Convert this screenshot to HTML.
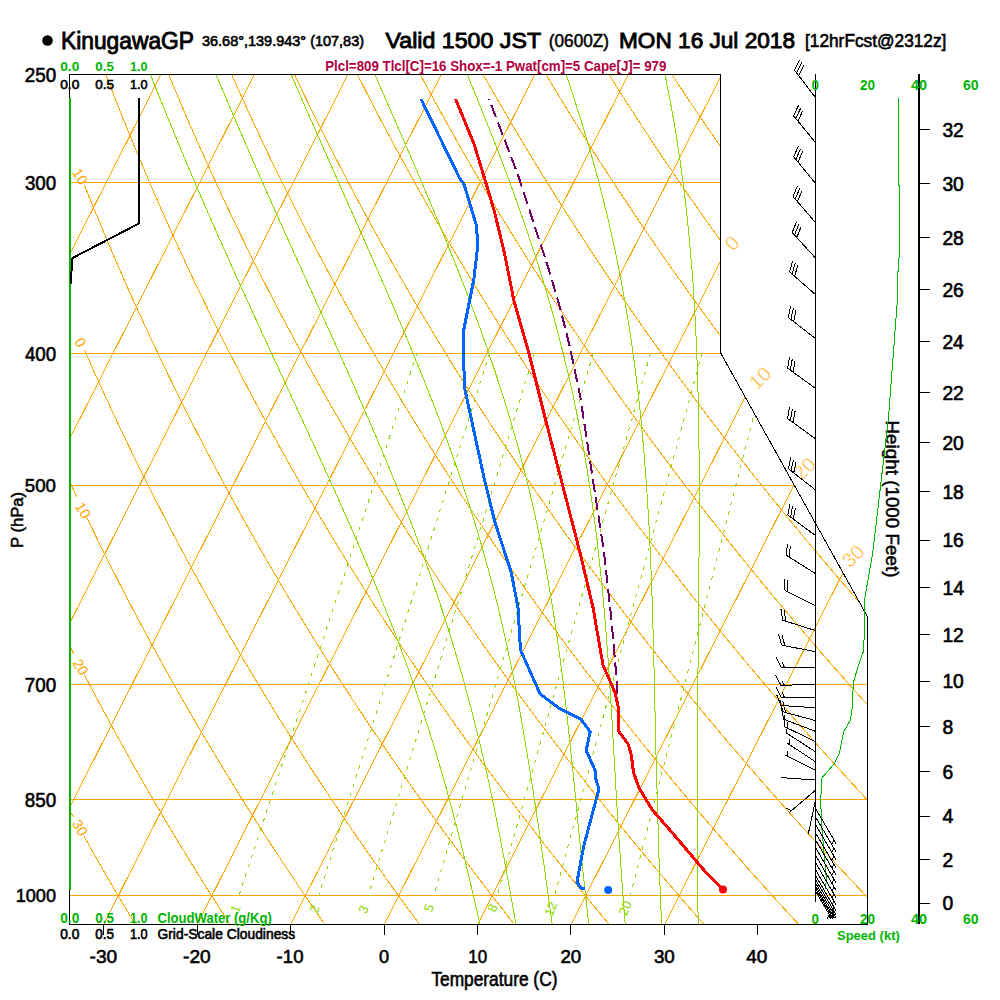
<!DOCTYPE html>
<html><head><meta charset="utf-8"><style>
html,body{margin:0;padding:0;background:#fff;}
svg{display:block;font-family:"Liberation Sans",sans-serif;}
</style></head><body>
<svg width="1000" height="1000" viewBox="0 0 1000 1000">
<rect width="1000" height="1000" fill="#fff"/>
<defs><clipPath id="cp"><polygon points="69.80,924.80 867.79,924.80 867.79,617.29 720.66,353.00 720.66,74.80 69.80,74.80"/></clipPath></defs>
<g clip-path="url(#cp)" shape-rendering="crispEdges">
<line x1="69.80" y1="895.90" x2="867.79" y2="895.90" stroke="#FFA500" stroke-width="1" />
<line x1="69.80" y1="799.64" x2="867.79" y2="799.64" stroke="#FFA500" stroke-width="1" />
<line x1="69.80" y1="684.64" x2="867.79" y2="684.64" stroke="#FFA500" stroke-width="1" />
<line x1="69.80" y1="485.35" x2="867.79" y2="485.35" stroke="#FFA500" stroke-width="1" />
<line x1="69.80" y1="353.18" x2="867.79" y2="353.18" stroke="#FFA500" stroke-width="1" />
<line x1="69.80" y1="182.79" x2="867.79" y2="182.79" stroke="#FFA500" stroke-width="1" />
<polyline points="-457.25,924.80 -26.14,74.80" fill="none" stroke="#FFA500" stroke-width="1" />
<polyline points="-363.77,924.80 67.33,74.80" fill="none" stroke="#FFA500" stroke-width="1" />
<polyline points="-270.30,924.80 160.80,74.80" fill="none" stroke="#FFA500" stroke-width="1" />
<polyline points="-176.83,924.80 254.28,74.80" fill="none" stroke="#FFA500" stroke-width="1" />
<polyline points="-83.35,924.80 347.75,74.80" fill="none" stroke="#FFA500" stroke-width="1" />
<polyline points="10.12,924.80 441.23,74.80" fill="none" stroke="#FFA500" stroke-width="1" />
<polyline points="103.60,924.80 534.70,74.80" fill="none" stroke="#FFA500" stroke-width="1" />
<polyline points="197.07,924.80 628.17,74.80" fill="none" stroke="#FFA500" stroke-width="1" />
<polyline points="290.54,924.80 721.65,74.80" fill="none" stroke="#FFA500" stroke-width="1" />
<polyline points="384.02,924.80 815.12,74.80" fill="none" stroke="#FFA500" stroke-width="1" />
<polyline points="477.49,924.80 908.60,74.80" fill="none" stroke="#FFA500" stroke-width="1" />
<polyline points="570.97,924.80 1002.07,74.80" fill="none" stroke="#FFA500" stroke-width="1" />
<polyline points="664.44,924.80 1095.54,74.80" fill="none" stroke="#FFA500" stroke-width="1" />
<polyline points="-262.84,-227.76 -260.25,-208.34 -257.63,-189.54 -254.98,-171.31 -252.32,-153.63 -249.63,-136.46 -246.93,-119.77 -244.22,-103.54 -241.50,-87.75 -238.77,-72.36 -236.03,-57.37 -233.29,-42.74 -230.54,-28.47 -227.80,-14.53 -225.05,-0.92 -222.30,12.40 -219.55,25.41 -216.81,38.15 -214.07,50.62 -211.33,62.83 -208.60,74.80 -205.87,86.53 -203.14,98.03 -200.42,109.31 -197.71,120.38 -195.01,131.25 -192.31,141.92 -189.61,152.41 -186.93,162.71 -184.25,172.83 -181.58,182.79 -178.92,192.58 -176.27,202.21 -173.62,211.69 -170.98,221.02 -168.36,230.20 -165.73,239.24 -163.12,248.15 -160.52,256.92 -157.93,265.57 -155.34,274.09 -152.76,282.49 -150.20,290.78 -147.64,298.95 -145.09,307.01 -142.55,314.96 -140.01,322.80 -137.49,330.54 -134.98,338.19 -132.47,345.73 -129.97,353.18 -127.49,360.54 -125.01,367.81 -122.54,374.99 -120.07,382.08 -117.62,389.09 -115.18,396.02 -112.74,402.87 -110.32,409.64 -107.90,416.33 -105.49,422.95 -103.09,429.49 -100.69,435.96 -98.31,442.37 -95.93,448.70 -93.57,454.97 -91.21,461.17 -88.86,467.31 -86.51,473.38 -84.18,479.40 -81.85,485.35 -79.53,491.24 -77.22,497.08 -74.92,502.86 -72.62,508.58 -70.34,514.25 -68.06,519.86 -65.78,525.42 -63.52,530.93 -61.26,536.39 -59.01,541.80 -56.77,547.16 -54.54,552.48 -52.31,557.74 -50.09,562.96 -47.88,568.13 -45.68,573.26 -43.48,578.34 -41.29,583.38 -39.10,588.38 -36.93,593.34 -34.76,598.26 -32.59,603.13 -30.44,607.97 -28.29,612.76 -26.15,617.52 -24.01,622.24 -21.88,626.92 -19.76,631.57 -17.65,636.18 -15.54,640.75 -13.43,645.29 -11.34,649.79 -9.25,654.26 -7.17,658.70 -5.09,663.10 -3.02,667.47 -0.95,671.81 1.10,676.12 3.16,680.40 5.20,684.64 7.24,688.86 9.28,693.04 11.31,697.20 13.33,701.33 15.34,705.43 17.35,709.50 19.36,713.54 21.36,717.56 23.35,721.55 25.34,725.51 27.32,729.44 29.30,733.35 31.27,737.24 33.23,741.10 35.19,744.93 37.15,748.74 39.10,752.52 41.04,756.28 42.98,760.02 44.91,763.73 46.84,767.42 48.76,771.09 50.68,774.74 52.59,778.36 54.50,781.96 56.40,785.54 58.30,789.10 60.19,792.63 62.07,796.15 63.96,799.64 65.83,803.12 67.70,806.57 69.57,810.00 71.43,813.42 73.29,816.81" fill="none" stroke="#FFA500" stroke-width="1" />
<polyline points="83.97,836.12 85.80,839.39 87.62,842.64 89.43,845.87 91.25,849.08 93.05,852.28 94.86,855.46 96.66,858.62 98.45,861.77 100.24,864.90 102.02,868.01 103.81,871.11 105.58,874.19 107.36,877.25 109.12,880.30 110.89,883.33 112.65,886.35 114.40,889.35 116.16,892.34 117.90,895.31 119.65,898.27 121.39,901.21 123.12,904.14 124.85,907.05 126.58,909.95 128.30,912.83 130.02,915.70 131.74,918.56 133.45,921.41 135.16,924.24" fill="none" stroke="#FFA500" stroke-width="1" />
<polyline points="-208.48,-227.76 -205.38,-208.34 -202.26,-189.54 -199.12,-171.31 -195.98,-153.63 -192.82,-136.46 -189.66,-119.77 -186.50,-103.54 -183.34,-87.75 -180.17,-72.36 -177.01,-57.37 -173.85,-42.74 -170.69,-28.47 -167.54,-14.53 -164.40,-0.92 -161.26,12.40 -158.13,25.41 -155.01,38.15 -151.89,50.62 -148.79,62.83 -145.69,74.80 -142.60,86.53 -139.53,98.03 -136.46,109.31 -133.41,120.38 -130.36,131.25 -127.33,141.92 -124.31,152.41 -121.30,162.71 -118.30,172.83 -115.31,182.79 -112.34,192.58 -109.37,202.21 -106.42,211.69 -103.48,221.02 -100.55,230.20 -97.64,239.24 -94.73,248.15 -91.84,256.92 -88.96,265.57 -86.09,274.09 -83.23,282.49 -80.38,290.78 -77.55,298.95 -74.73,307.01 -71.92,314.96 -69.12,322.80 -66.33,330.54 -63.55,338.19 -60.78,345.73 -58.03,353.18 -55.29,360.54 -52.55,367.81 -49.83,374.99 -47.12,382.08 -44.42,389.09 -41.73,396.02 -39.05,402.87 -36.39,409.64 -33.73,416.33 -31.08,422.95 -28.44,429.49 -25.82,435.96 -23.20,442.37 -20.60,448.70 -18.00,454.97 -15.42,461.17 -12.84,467.31 -10.27,473.38 -7.72,479.40 -5.17,485.35 -2.63,491.24 -0.11,497.08 2.41,502.86 4.92,508.58 7.42,514.25 9.91,519.86 12.39,525.42 14.87,530.93 17.33,536.39 19.78,541.80 22.23,547.16 24.67,552.48 27.09,557.74 29.51,562.96 31.92,568.13 34.33,573.26 36.72,578.34 39.11,583.38 41.48,588.38 43.85,593.34 46.22,598.26 48.57,603.13 50.91,607.97 53.25,612.76 55.58,617.52 57.90,622.24 60.22,626.92 62.52,631.57 64.82,636.18 67.11,640.75 69.40,645.29 71.67,649.79 73.94,654.26" fill="none" stroke="#FFA500" stroke-width="1" />
<polyline points="84.55,674.92 86.78,679.20 89.00,683.46 91.21,687.68 93.42,691.88 95.62,696.04 97.82,700.18 100.00,704.28 102.18,708.36 104.35,712.41 106.52,716.44 108.68,720.43 110.84,724.40 112.98,728.34 115.12,732.26 117.26,736.15 119.39,740.02 121.51,743.86 123.62,747.67 125.73,751.47 127.84,755.23 129.94,758.98 132.03,762.70 134.11,766.39 136.19,770.07 138.27,773.72 140.33,777.35 142.40,780.95 144.45,784.54 146.50,788.10 148.55,791.64 150.59,795.17 152.62,798.67 154.65,802.14 156.67,805.60 158.69,809.04 160.70,812.46 162.71,815.86 164.71,819.24 166.70,822.60 168.69,825.95 170.68,829.27 172.66,832.57 174.63,835.86 176.60,839.13 178.56,842.38 180.52,845.61 182.48,848.83 184.43,852.03 186.37,855.21 188.31,858.37 190.24,861.52 192.17,864.65 194.10,867.76 196.02,870.86 197.93,873.94 199.84,877.01 201.74,880.05 203.65,883.09 205.54,886.11 207.43,889.11 209.32,892.10 211.20,895.07 213.08,898.03 214.95,900.97 216.82,903.90 218.68,906.82 220.54,909.72 222.40,912.60 224.25,915.48 226.09,918.33 227.93,921.18 229.77,924.01" fill="none" stroke="#FFA500" stroke-width="1" />
<polyline points="-154.12,-227.76 -150.50,-208.34 -146.88,-189.54 -143.26,-171.31 -139.63,-153.63 -136.01,-136.46 -132.39,-119.77 -128.78,-103.54 -125.18,-87.75 -121.58,-72.36 -117.99,-57.37 -114.41,-42.74 -110.85,-28.47 -107.29,-14.53 -103.75,-0.92 -100.22,12.40 -96.71,25.41 -93.20,38.15 -89.72,50.62 -86.24,62.83 -82.79,74.80 -79.34,86.53 -75.92,98.03 -72.50,109.31 -69.11,120.38 -65.72,131.25 -62.36,141.92 -59.01,152.41 -55.67,162.71 -52.35,172.83 -49.05,182.79 -45.76,192.58 -42.48,202.21 -39.22,211.69 -35.98,221.02 -32.75,230.20 -29.54,239.24 -26.34,248.15 -23.16,256.92 -19.99,265.57 -16.84,274.09 -13.70,282.49 -10.57,290.78 -7.46,298.95 -4.37,307.01 -1.29,314.96 1.78,322.80 4.84,330.54 7.88,338.19 10.90,345.73 13.92,353.18 16.92,360.54 19.90,367.81 22.87,374.99 25.83,382.08 28.78,389.09 31.72,396.02 34.64,402.87 37.55,409.64 40.44,416.33 43.33,422.95 46.20,429.49 49.06,435.96 51.90,442.37 54.74,448.70 57.56,454.97 60.38,461.17 63.18,467.31 65.97,473.38 68.74,479.40 71.51,485.35 74.27,491.24 77.01,497.08" fill="none" stroke="#FFA500" stroke-width="1" />
<polyline points="86.26,516.50 88.96,522.09 91.64,527.64 94.32,533.12 96.99,538.56 99.64,543.95 102.29,549.29 104.92,554.59 107.55,559.83 110.16,565.03 112.77,570.19 115.37,575.30 117.95,580.37 120.53,585.39 123.10,590.37 125.66,595.31 128.21,600.21 130.75,605.07 133.28,609.89 135.80,614.67 138.31,619.41 140.82,624.12 143.31,628.78 145.80,633.41 148.28,638.01 150.75,642.57 153.21,647.09 155.66,651.58 158.11,656.04 160.54,660.46 162.97,664.85 165.39,669.21 167.81,673.54 170.21,677.84 172.61,682.10 174.99,686.33 177.37,690.54 179.75,694.71 182.11,698.86 184.47,702.97 186.82,707.06 189.16,711.12 191.50,715.15 193.83,719.16 196.15,723.13 198.46,727.08 200.77,731.01 203.07,734.91 205.36,738.78 207.64,742.63 209.92,746.46 212.19,750.25 214.46,754.03 216.71,757.78 218.96,761.51 221.21,765.21 223.45,768.89 225.68,772.55 227.90,776.19 230.12,779.80 232.33,783.39 234.54,786.96 236.73,790.51 238.93,794.04 241.11,797.55 243.29,801.03 245.47,804.50 247.63,807.95 249.80,811.37 251.95,814.78 254.10,818.16 256.24,821.53 258.38,824.88 260.51,828.21 262.64,831.52 264.76,834.81 266.87,838.09 268.98,841.34 271.08,844.58 273.18,847.80 275.27,851.00 277.36,854.19 279.44,857.36 281.52,860.51 283.59,863.65 285.65,866.77 287.71,869.87 289.76,872.96 291.81,876.03 293.85,879.08 295.89,882.12 297.93,885.14 299.95,888.15 301.98,891.14 303.99,894.12 306.00,897.08 308.01,900.03 310.01,902.97 312.01,905.89 314.00,908.79 315.99,911.68 317.97,914.56 319.95,917.42 321.92,920.27 323.89,923.11" fill="none" stroke="#FFA500" stroke-width="1" />
<polyline points="84.55,350.21 87.82,357.61 91.06,364.91 94.29,372.13 97.51,379.25 100.71,386.30 103.89,393.26 107.06,400.14 110.22,406.94 113.36,413.66 116.49,420.31 119.60,426.88 122.70,433.38 125.78,439.81 128.85,446.18 131.91,452.47 134.95,458.70 137.98,464.86 141.00,470.96 144.01,477.00 147.00,482.98 149.98,488.89 152.94,494.75 155.90,500.55 158.84,506.30 161.77,511.99 164.68,517.62 167.59,523.21 170.48,528.74 173.36,534.22 176.23,539.65 179.09,545.02 181.94,550.36 184.77,555.64 187.60,560.88 190.41,566.07 193.21,571.21 196.00,576.32 198.79,581.37 201.56,586.39 204.31,591.36 207.06,596.29 209.80,601.18 212.53,606.04 215.25,610.85 217.96,615.62 220.66,620.35 223.34,625.05 226.02,629.71 228.69,634.34 231.35,638.92 234.00,643.48 236.64,647.99 239.27,652.48 241.89,656.93 244.51,661.35 247.11,665.73 249.70,670.08 252.29,674.40 254.87,678.69 257.43,682.95 259.99,687.18 262.54,691.37 265.08,695.54 267.62,699.68 270.14,703.79 272.66,707.87 275.17,711.93 277.67,715.95 280.16,719.95 282.64,723.93 285.12,727.87 287.59,731.79 290.05,735.69 292.50,739.55 294.94,743.40 297.38,747.22 299.81,751.01 302.23,754.78 304.65,758.53 307.05,762.25 309.45,765.95 311.84,769.63 314.23,773.28 316.61,776.91 318.98,780.52 321.34,784.11 323.70,787.68 326.04,791.22 328.39,794.74 330.72,798.25 333.05,801.73 335.37,805.19 337.69,808.63 340.00,812.05 342.30,815.46 344.59,818.84 346.88,822.20 349.16,825.55 351.44,828.87 353.71,832.18 355.97,835.47 358.23,838.74 360.48,841.99 362.72,845.23 364.96,848.44 367.19,851.64 369.42,854.83 371.64,857.99 373.85,861.14 376.06,864.27 378.26,867.39 380.46,870.49 382.65,873.57 384.83,876.64 387.01,879.69 389.18,882.73 391.35,885.75 393.51,888.75 395.67,891.74 397.82,894.72 399.96,897.68 402.10,900.62 404.23,903.55 406.36,906.47 408.48,909.37 410.60,912.26 412.71,915.13 414.82,917.99 416.92,920.84 419.02,923.67" fill="none" stroke="#FFA500" stroke-width="1" />
<polyline points="84.67,185.74 88.58,195.49 92.46,205.07 96.33,214.50 100.17,223.79 103.99,232.93 107.79,241.93 111.57,250.79 115.33,259.53 119.06,268.14 122.78,276.63 126.47,284.99 130.15,293.24 133.81,301.38 137.44,309.40 141.06,317.32 144.66,325.14 148.24,332.85 151.80,340.46 155.34,347.98 158.86,355.40 162.37,362.73 165.85,369.97 169.32,377.12 172.78,384.19 176.21,391.18 179.63,398.08 183.04,404.90 186.42,411.65 189.79,418.32 193.14,424.92 196.48,431.44 199.80,437.89 203.11,444.27 206.40,450.59 209.68,456.84 212.94,463.02 216.18,469.14 219.41,475.20 222.63,481.19 225.83,487.13 229.02,493.00 232.19,498.82 235.35,504.58 238.50,510.29 241.63,515.94 244.75,521.54 247.86,527.08 250.95,532.58 254.03,538.02 257.09,543.42 260.15,548.76 263.19,554.06 266.22,559.31 269.23,564.52 272.24,569.67 275.23,574.79 278.21,579.86 281.18,584.89 284.13,589.87 287.08,594.82 290.01,599.72 292.93,604.58 295.84,609.41 298.74,614.19 301.63,618.94 304.51,623.65 307.38,628.32 310.23,632.95 313.08,637.55 315.91,642.11 318.73,646.64 321.55,651.14 324.35,655.60 327.14,660.02 329.93,664.42 332.70,668.78 335.46,673.11 338.22,677.41 340.96,681.67 343.69,685.91 346.42,690.12 349.13,694.29 351.84,698.44 354.54,702.56 357.22,706.65 359.90,710.71 362.57,714.75 365.23,718.76 367.88,722.74 370.52,726.69 373.16,730.62 375.78,734.52 378.40,738.40 381.01,742.25 383.61,746.07 386.20,749.88 388.78,753.65 391.36,757.41 393.92,761.14 396.48,764.84 399.03,768.53 401.57,772.19 404.11,775.83 406.63,779.44 409.15,783.04 411.66,786.61 414.17,790.16 416.66,793.69 419.15,797.20 421.63,800.69 424.10,804.15 426.57,807.60 429.03,811.03 431.48,814.44 433.92,817.83 436.36,821.19 438.79,824.54 441.21,827.88 443.63,831.19 446.04,834.48 448.44,837.76 450.83,841.02 453.22,844.26 455.60,847.48 457.98,850.68 460.35,853.87 462.71,857.04 465.06,860.20 467.41,863.33 469.76,866.46 472.09,869.56 474.42,872.65 476.74,875.72 479.06,878.78 481.37,881.82 483.68,884.84 485.97,887.85 488.27,890.85 490.55,893.82 492.83,896.79 495.11,899.74 497.37,902.67 499.64,905.59 501.89,908.50 504.14,911.39 506.39,914.27 508.63,917.14 510.86,919.99 513.09,922.82" fill="none" stroke="#FFA500" stroke-width="1" />
<polyline points="8.97,-227.76 14.12,-208.34 19.24,-189.54 24.33,-171.31 29.39,-153.63 34.42,-136.46 39.41,-119.77 44.38,-103.54 49.31,-87.75 54.20,-72.36 59.07,-57.37 63.90,-42.74 68.70,-28.47 73.46,-14.53 78.20,-0.92 82.90,12.40 87.57,25.41 92.20,38.15 96.81,50.62 101.38,62.83 105.93,74.80 110.44,86.53 114.92,98.03 119.38,109.31 123.80,120.38 128.20,131.25 132.57,141.92 136.91,152.41 141.22,162.71 145.50,172.83 149.76,182.79 153.99,192.58 158.19,202.21 162.37,211.69 166.52,221.02 170.65,230.20 174.75,239.24 178.83,248.15 182.88,256.92 186.91,265.57 190.92,274.09 194.90,282.49 198.86,290.78 202.80,298.95 206.71,307.01 210.61,314.96 214.48,322.80 218.33,330.54 222.16,338.19 225.96,345.73 229.75,353.18 233.52,360.54 237.26,367.81 240.99,374.99 244.70,382.08 248.39,389.09 252.06,396.02 255.71,402.87 259.34,409.64 262.95,416.33 266.55,422.95 270.12,429.49 273.68,435.96 277.23,442.37 280.75,448.70 284.26,454.97 287.75,461.17 291.23,467.31 294.68,473.38 298.13,479.40 301.55,485.35 304.96,491.24 308.36,497.08 311.74,502.86 315.10,508.58 318.45,514.25 321.78,519.86 325.10,525.42 328.41,530.93 331.70,536.39 334.97,541.80 338.23,547.16 341.48,552.48 344.72,557.74 347.94,562.96 351.14,568.13 354.34,573.26 357.52,578.34 360.68,583.38 363.84,588.38 366.98,593.34 370.11,598.26 373.22,603.13 376.32,607.97 379.42,612.76 382.49,617.52 385.56,622.24 388.62,626.92 391.66,631.57 394.69,636.18 397.71,640.75 400.72,645.29 403.72,649.79 406.70,654.26 409.68,658.70 412.64,663.10 415.59,667.47 418.53,671.81 421.46,676.12 424.38,680.40 427.29,684.64 430.19,688.86 433.08,693.04 435.96,697.20 438.83,701.33 441.69,705.43 444.54,709.50 447.37,713.54 450.20,717.56 453.02,721.55 455.83,725.51 458.63,729.44 461.42,733.35 464.20,737.24 466.97,741.10 469.74,744.93 472.49,748.74 475.24,752.52 477.97,756.28 480.70,760.02 483.41,763.73 486.12,767.42 488.82,771.09 491.52,774.74 494.20,778.36 496.87,781.96 499.54,785.54 502.20,789.10 504.85,792.63 507.49,796.15 510.12,799.64 512.75,803.12 515.36,806.57 517.97,810.00 520.57,813.42 523.17,816.81 525.75,820.19 528.33,823.54 530.90,826.88 533.46,830.20 536.02,833.50 538.57,836.78 541.11,840.04 543.64,843.29 546.16,846.51 548.68,849.72 551.19,852.92 553.70,856.09 556.19,859.25 558.68,862.39 561.17,865.52 563.64,868.63 566.11,871.72 568.57,874.80 571.03,877.86 573.48,880.91 575.92,883.94 578.36,886.95 580.78,889.95 583.21,892.93 585.62,895.90 588.03,898.86 590.43,901.80 592.83,904.72 595.22,907.63 597.60,910.53 599.98,913.41 602.35,916.28 604.72,919.13 607.08,921.97 609.43,924.80" fill="none" stroke="#FFA500" stroke-width="1" />
<polyline points="63.33,-227.76 69.00,-208.34 74.62,-189.54 80.20,-171.31 85.73,-153.63 91.23,-136.46 96.68,-119.77 102.10,-103.54 107.47,-87.75 112.80,-72.36 118.09,-57.37 123.34,-42.74 128.54,-28.47 133.71,-14.53 138.84,-0.92 143.94,12.40 148.99,25.41 154.00,38.15 158.98,50.62 163.93,62.83 168.83,74.80 173.70,86.53 178.54,98.03 183.34,109.31 188.11,120.38 192.84,131.25 197.54,141.92 202.21,152.41 206.85,162.71 211.45,172.83 216.03,182.79 220.57,192.58 225.08,202.21 229.57,211.69 234.02,221.02 238.45,230.20 242.85,239.24 247.22,248.15 251.56,256.92 255.88,265.57 260.17,274.09 264.43,282.49 268.67,290.78 272.89,298.95 277.07,307.01 281.24,314.96 285.38,322.80 289.49,330.54 293.58,338.19 297.65,345.73 301.70,353.18 305.72,360.54 309.72,367.81 313.70,374.99 317.65,382.08 321.59,389.09 325.50,396.02 329.40,402.87 333.27,409.64 337.12,416.33 340.95,422.95 344.77,429.49 348.56,435.96 352.33,442.37 356.09,448.70 359.83,454.97 363.54,461.17 367.24,467.31 370.92,473.38 374.59,479.40 378.23,485.35 381.86,491.24 385.47,497.08 389.07,502.86 392.65,508.58 396.21,514.25 399.75,519.86 403.28,525.42 406.79,530.93 410.29,536.39 413.77,541.80 417.24,547.16 420.69,552.48 424.12,557.74 427.54,562.96 430.95,568.13 434.34,573.26 437.71,578.34 441.08,583.38 444.42,588.38 447.76,593.34 451.08,598.26 454.38,603.13 457.68,607.97 460.96,612.76 464.22,617.52 467.48,622.24 470.72,626.92 473.94,631.57 477.16,636.18 480.36,640.75 483.55,645.29 486.73,649.79 489.89,654.26 493.04,658.70 496.18,663.10 499.31,667.47 502.43,671.81 505.54,676.12 508.63,680.40 511.71,684.64 514.78,688.86 517.84,693.04 520.89,697.20 523.93,701.33 526.96,705.43 529.97,709.50 532.98,713.54 535.97,717.56 538.96,721.55 541.93,725.51 544.89,729.44 547.85,733.35 550.79,737.24 553.72,741.10 556.65,744.93 559.56,748.74 562.46,752.52 565.36,756.28 568.24,760.02 571.12,763.73 573.98,767.42 576.84,771.09 579.68,774.74 582.52,778.36 585.35,781.96 588.17,785.54 590.98,789.10 593.78,792.63 596.57,796.15 599.35,799.64 602.13,803.12 604.89,806.57 607.65,810.00 610.40,813.42 613.14,816.81 615.87,820.19 618.60,823.54 621.31,826.88 624.02,830.20 626.72,833.50 629.41,836.78 632.10,840.04 634.77,843.29 637.44,846.51 640.10,849.72 642.75,852.92 645.39,856.09 648.03,859.25 650.66,862.39 653.28,865.52 655.90,868.63 658.50,871.72 661.10,874.80 663.69,877.86 666.28,880.91 668.86,883.94 671.43,886.95 673.99,889.95 676.55,892.93 679.10,895.90 681.64,898.86 684.17,901.80 686.70,904.72 689.22,907.63 691.74,910.53 694.25,913.41 696.75,916.28 699.25,919.13 701.73,921.97 704.22,924.80" fill="none" stroke="#FFA500" stroke-width="1" />
<polyline points="117.70,-227.76 123.87,-208.34 129.99,-189.54 136.06,-171.31 142.07,-153.63 148.04,-136.46 153.95,-119.77 159.82,-103.54 165.63,-87.75 171.39,-72.36 177.11,-57.37 182.77,-42.74 188.39,-28.47 193.97,-14.53 199.49,-0.92 204.97,12.40 210.41,25.41 215.81,38.15 221.16,50.62 226.47,62.83 231.74,74.80 236.96,86.53 242.15,98.03 247.30,109.31 252.41,120.38 257.48,131.25 262.52,141.92 267.51,152.41 272.48,162.71 277.40,172.83 282.29,182.79 287.15,192.58 291.98,202.21 296.77,211.69 301.53,221.02 306.25,230.20 310.95,239.24 315.61,248.15 320.24,256.92 324.85,265.57 329.42,274.09 333.97,282.49 338.48,290.78 342.97,298.95 347.43,307.01 351.87,314.96 356.27,322.80 360.65,330.54 365.01,338.19 369.34,345.73 373.64,353.18 377.92,360.54 382.17,367.81 386.40,374.99 390.61,382.08 394.79,389.09 398.95,396.02 403.09,402.87 407.20,409.64 411.29,416.33 415.36,422.95 419.41,429.49 423.44,435.96 427.44,442.37 431.43,448.70 435.39,454.97 439.33,461.17 443.26,467.31 447.16,473.38 451.05,479.40 454.91,485.35 458.76,491.24 462.59,497.08 466.40,502.86 470.19,508.58 473.96,514.25 477.72,519.86 481.46,525.42 485.18,530.93 488.88,536.39 492.57,541.80 496.24,547.16 499.89,552.48 503.53,557.74 507.15,562.96 510.75,568.13 514.34,573.26 517.91,578.34 521.47,583.38 525.01,588.38 528.54,593.34 532.05,598.26 535.55,603.13 539.03,607.97 542.50,612.76 545.95,617.52 549.39,622.24 552.82,626.92 556.23,631.57 559.63,636.18 563.01,640.75 566.38,645.29 569.74,649.79 573.08,654.26 576.41,658.70 579.73,663.10 583.03,667.47 586.33,671.81 589.61,676.12 592.87,680.40 596.13,684.64 599.37,688.86 602.60,693.04 605.82,697.20 609.03,701.33 612.22,705.43 615.41,709.50 618.58,713.54 621.74,717.56 624.89,721.55 628.03,725.51 631.16,729.44 634.27,733.35 637.38,737.24 640.47,741.10 643.56,744.93 646.63,748.74 649.69,752.52 652.74,756.28 655.78,760.02 658.82,763.73 661.84,767.42 664.85,771.09 667.85,774.74 670.84,778.36 673.82,781.96 676.79,785.54 679.76,789.10 682.71,792.63 685.65,796.15 688.59,799.64 691.51,803.12 694.43,806.57 697.33,810.00 700.23,813.42 703.12,816.81 706.00,820.19 708.87,823.54 711.73,826.88 714.58,830.20 717.42,833.50 720.26,836.78 723.08,840.04 725.90,843.29 728.71,846.51 731.51,849.72 734.31,852.92 737.09,856.09 739.87,859.25 742.64,862.39 745.40,865.52 748.15,868.63 750.89,871.72 753.63,874.80 756.36,877.86 759.08,880.91 761.79,883.94 764.50,886.95 767.20,889.95 769.89,892.93 772.57,895.90 775.25,898.86 777.91,901.80 780.58,904.72 783.23,907.63 785.88,910.53 788.51,913.41 791.15,916.28 793.77,919.13 796.39,921.97 799.00,924.80" fill="none" stroke="#FFA500" stroke-width="1" />
<polyline points="172.06,-227.76 178.74,-208.34 185.36,-189.54 191.92,-171.31 198.42,-153.63 204.85,-136.46 211.22,-119.77 217.53,-103.54 223.79,-87.75 229.99,-72.36 236.13,-57.37 242.21,-42.74 248.24,-28.47 254.22,-14.53 260.14,-0.92 266.01,12.40 271.84,25.41 277.61,38.15 283.33,50.62 289.01,62.83 294.64,74.80 300.23,86.53 305.76,98.03 311.26,109.31 316.71,120.38 322.12,131.25 327.49,141.92 332.82,152.41 338.11,162.71 343.35,172.83 348.56,182.79 353.73,192.58 358.87,202.21 363.97,211.69 369.03,221.02 374.05,230.20 379.04,239.24 384.00,248.15 388.92,256.92 393.82,265.57 398.67,274.09 403.50,282.49 408.30,290.78 413.06,298.95 417.79,307.01 422.50,314.96 427.17,322.80 431.82,330.54 436.43,338.19 441.02,345.73 445.58,353.18 450.12,360.54 454.63,367.81 459.11,374.99 463.56,382.08 467.99,389.09 472.40,396.02 476.78,402.87 481.13,409.64 485.46,416.33 489.77,422.95 494.05,429.49 498.31,435.96 502.55,442.37 506.76,448.70 510.96,454.97 515.13,461.17 519.28,467.31 523.40,473.38 527.51,479.40 531.60,485.35 535.66,491.24 539.71,497.08 543.73,502.86 547.74,508.58 551.72,514.25 555.69,519.86 559.64,525.42 563.56,530.93 567.47,536.39 571.37,541.80 575.24,547.16 579.09,552.48 582.93,557.74 586.75,562.96 590.56,568.13 594.34,573.26 598.11,578.34 601.86,583.38 605.60,588.38 609.32,593.34 613.02,598.26 616.71,603.13 620.38,607.97 624.04,612.76 627.68,617.52 631.31,622.24 634.92,626.92 638.51,631.57 642.09,636.18 645.66,640.75 649.21,645.29 652.75,649.79 656.27,654.26 659.78,658.70 663.28,663.10 666.76,667.47 670.22,671.81 673.68,676.12 677.12,680.40 680.55,684.64 683.96,688.86 687.36,693.04 690.75,697.20 694.13,701.33 697.49,705.43 700.84,709.50 704.18,713.54 707.51,717.56 710.82,721.55 714.13,725.51 717.42,729.44 720.70,733.35 723.96,737.24 727.22,741.10 730.46,744.93 733.70,748.74 736.92,752.52 740.13,756.28 743.33,760.02 746.52,763.73 749.69,767.42 752.86,771.09 756.02,774.74 759.16,778.36 762.30,781.96 765.42,785.54 768.54,789.10 771.64,792.63 774.74,796.15 777.82,799.64 780.89,803.12 783.96,806.57 787.01,810.00 790.06,813.42 793.09,816.81 796.12,820.19 799.13,823.54 802.14,826.88 805.14,830.20 808.12,833.50 811.10,836.78 814.07,840.04 817.03,843.29 819.99,846.51 822.93,849.72 825.86,852.92 828.79,856.09 831.70,859.25 834.61,862.39 837.51,865.52 840.40,868.63 843.28,871.72 846.16,874.80 849.02,877.86 851.88,880.91 854.73,883.94 857.57,886.95 860.40,889.95 863.23,892.93 866.04,895.90 868.85,898.86 871.65,901.80 874.45,904.72 877.23,907.63 880.01,910.53 882.78,913.41 885.54,916.28 888.30,919.13 891.05,921.97 893.79,924.80" fill="none" stroke="#FFA500" stroke-width="1" />
<polyline points="226.42,-227.76 233.62,-208.34 240.74,-189.54 247.78,-171.31 254.76,-153.63 261.66,-136.46 268.49,-119.77 275.25,-103.54 281.95,-87.75 288.58,-72.36 295.15,-57.37 301.65,-42.74 308.09,-28.47 314.47,-14.53 320.79,-0.92 327.05,12.40 333.26,25.41 339.41,38.15 345.51,50.62 351.55,62.83 357.55,74.80 363.49,86.53 369.38,98.03 375.22,109.31 381.02,120.38 386.76,131.25 392.47,141.92 398.12,152.41 403.73,162.71 409.30,172.83 414.83,182.79 420.32,192.58 425.76,202.21 431.16,211.69 436.53,221.02 441.85,230.20 447.14,239.24 452.39,248.15 457.61,256.92 462.78,265.57 467.93,274.09 473.03,282.49 478.11,290.78 483.15,298.95 488.15,307.01 493.13,314.96 498.07,322.80 502.98,330.54 507.86,338.19 512.71,345.73 517.53,353.18 522.32,360.54 527.08,367.81 531.81,374.99 536.52,382.08 541.19,389.09 545.84,396.02 550.47,402.87 555.06,409.64 559.63,416.33 564.17,422.95 568.69,429.49 573.19,435.96 577.66,442.37 582.10,448.70 586.52,454.97 590.92,461.17 595.29,467.31 599.64,473.38 603.97,479.40 608.28,485.35 612.56,491.24 616.82,497.08 621.06,502.86 625.28,508.58 629.48,514.25 633.66,519.86 637.81,525.42 641.95,530.93 646.07,536.39 650.16,541.80 654.24,547.16 658.30,552.48 662.34,557.74 666.36,562.96 670.36,568.13 674.34,573.26 678.31,578.34 682.26,583.38 686.19,588.38 690.10,593.34 694.00,598.26 697.87,603.13 701.74,607.97 705.58,612.76 709.41,617.52 713.22,622.24 717.02,626.92 720.80,631.57 724.56,636.18 728.31,640.75 732.04,645.29 735.76,649.79 739.46,654.26 743.15,658.70 746.82,663.10 750.48,667.47 754.12,671.81 757.75,676.12 761.37,680.40 764.97,684.64 768.55,688.86 772.13,693.04 775.68,697.20 779.23,701.33 782.76,705.43 786.28,709.50 789.79,713.54 793.28,717.56 796.76,721.55 800.23,725.51 803.68,729.44 807.12,733.35 810.55,737.24 813.97,741.10 817.37,744.93 820.77,748.74 824.15,752.52 827.52,756.28 830.87,760.02 834.22,763.73 837.55,767.42 840.87,771.09 844.19,774.74 847.48,778.36 850.77,781.96 854.05,785.54 857.32,789.10 860.57,792.63 863.82,796.15 867.05,799.64 870.28,803.12 873.49,806.57 876.69,810.00 879.88,813.42 883.07,816.81 886.24,820.19 889.40,823.54 892.55,826.88 895.69,830.20 898.83,833.50 901.95,836.78 905.06,840.04 908.17,843.29 911.26,846.51 914.34,849.72 917.42,852.92 920.48,856.09 923.54,859.25 926.59,862.39 929.62,865.52 932.65,868.63 935.67,871.72 938.68,874.80 941.69,877.86 944.68,880.91 947.66,883.94 950.64,886.95 953.61,889.95 956.57,892.93 959.52,895.90 962.46,898.86 965.39,901.80 968.32,904.72 971.24,907.63 974.15,910.53 977.05,913.41 979.94,916.28 982.83,919.13 985.70,921.97 988.57,924.80" fill="none" stroke="#FFA500" stroke-width="1" />
<polyline points="280.79,-227.76 288.49,-208.34 296.11,-189.54 303.65,-171.31 311.10,-153.63 318.47,-136.46 325.76,-119.77 332.97,-103.54 340.11,-87.75 347.17,-72.36 354.16,-57.37 361.08,-42.74 367.94,-28.47 374.72,-14.53 381.44,-0.92 388.09,12.40 394.68,25.41 401.21,38.15 407.68,50.62 414.10,62.83 420.45,74.80 426.75,86.53 432.99,98.03 439.18,109.31 445.32,120.38 451.40,131.25 457.44,141.92 463.43,152.41 469.36,162.71 475.25,172.83 481.10,182.79 486.90,192.58 492.65,202.21 498.36,211.69 504.03,221.02 509.65,230.20 515.24,239.24 520.78,248.15 526.29,256.92 531.75,265.57 537.18,274.09 542.57,282.49 547.92,290.78 553.23,298.95 558.51,307.01 563.76,314.96 568.97,322.80 574.14,330.54 579.29,338.19 584.40,345.73 589.47,353.18 594.52,360.54 599.53,367.81 604.52,374.99 609.47,382.08 614.40,389.09 619.29,396.02 624.15,402.87 628.99,409.64 633.80,416.33 638.58,422.95 643.34,429.49 648.06,435.96 652.76,442.37 657.44,448.70 662.09,454.97 666.71,461.17 671.31,467.31 675.88,473.38 680.43,479.40 684.96,485.35 689.46,491.24 693.94,497.08 698.39,502.86 702.83,508.58 707.24,514.25 711.62,519.86 715.99,525.42 720.33,530.93 724.66,536.39 728.96,541.80 733.24,547.16 737.50,552.48 741.74,557.74 745.96,562.96 750.17,568.13 754.35,573.26 758.51,578.34 762.65,583.38 766.78,588.38 770.88,593.34 774.97,598.26 779.04,603.13 783.09,607.97 787.12,612.76 791.14,617.52 795.14,622.24 799.12,626.92 803.08,631.57 807.03,636.18 810.96,640.75 814.87,645.29 818.77,649.79 822.65,654.26 826.52,658.70 830.37,663.10 834.20,667.47 838.02,671.81 841.82,676.12 845.61,680.40 849.38,684.64 853.14,688.86 856.89,693.04 860.62,697.20 864.33,701.33 868.03,705.43 871.72,709.50 875.39,713.54 879.05,717.56 882.69,721.55 886.32,725.51 889.94,729.44 893.55,733.35 897.14,737.24 900.72,741.10 904.28,744.93 907.83,748.74 911.37,752.52 914.90,756.28 918.42,760.02 921.92,763.73 925.41,767.42 928.89,771.09 932.35,774.74 935.81,778.36 939.25,781.96 942.68,785.54 946.10,789.10 949.51,792.63 952.90,796.15 956.29,799.64 959.66,803.12 963.02,806.57 966.37,810.00 969.71,813.42 973.04,816.81 976.36,820.19 979.67,823.54 982.97,826.88 986.25,830.20 989.53,833.50 992.80,836.78 996.05,840.04 999.30,843.29 1002.53,846.51 1005.76,849.72 1008.97,852.92 1012.18,856.09 1015.38,859.25 1018.56,862.39 1021.74,865.52 1024.91,868.63 1028.06,871.72 1031.21,874.80 1034.35,877.86 1037.48,880.91 1040.60,883.94 1043.71,886.95 1046.81,889.95 1049.91,892.93 1052.99,895.90 1056.07,898.86 1059.13,901.80 1062.19,904.72 1065.24,907.63 1068.28,910.53 1071.32,913.41 1074.34,916.28 1077.35,919.13 1080.36,921.97 1083.36,924.80" fill="none" stroke="#FFA500" stroke-width="1" />
<polyline points="335.15,-227.76 343.37,-208.34 351.49,-189.54 359.51,-171.31 367.44,-153.63 375.28,-136.46 383.03,-119.77 390.69,-103.54 398.27,-87.75 405.77,-72.36 413.18,-57.37 420.52,-42.74 427.78,-28.47 434.97,-14.53 442.09,-0.92 449.13,12.40 456.11,25.41 463.02,38.15 469.86,50.62 476.64,62.83 483.35,74.80 490.01,86.53 496.61,98.03 503.14,109.31 509.62,120.38 516.05,131.25 522.41,141.92 528.73,152.41 534.99,162.71 541.20,172.83 547.37,182.79 553.48,192.58 559.54,202.21 565.56,211.69 571.53,221.02 577.46,230.20 583.34,239.24 589.17,248.15 594.97,256.92 600.72,265.57 606.43,274.09 612.10,282.49 617.73,290.78 623.32,298.95 628.87,307.01 634.39,314.96 639.87,322.80 645.31,330.54 650.71,338.19 656.08,345.73 661.42,353.18 666.72,360.54 671.99,367.81 677.22,374.99 682.43,382.08 687.60,389.09 692.74,396.02 697.84,402.87 702.92,409.64 707.97,416.33 712.99,422.95 717.98,429.49 722.94,435.96 727.87,442.37 732.77,448.70 737.65,454.97 742.50,461.17 747.32,467.31 752.12,473.38 756.89,479.40 761.64,485.35 766.36,491.24 771.05,497.08 775.72,502.86 780.37,508.58 784.99,514.25 789.59,519.86 794.17,525.42 798.72,530.93 803.25,536.39 807.76,541.80 812.24,547.16 816.71,552.48 821.15,557.74 825.57,562.96 829.97,568.13 834.35,573.26 838.71,578.34 843.05,583.38 847.36,588.38 851.66,593.34 855.94,598.26 860.20,603.13 864.44,607.97 868.66,612.76 872.87,617.52 877.05,622.24 881.22,626.92 885.36,631.57 889.49,636.18 893.61,640.75 897.70,645.29 901.78,649.79 905.84,654.26 909.88,658.70 913.91,663.10 917.92,667.47 921.92,671.81 925.89,676.12 929.86,680.40 933.80,684.64 937.73,688.86 941.65,693.04 945.55,697.20 949.43,701.33 953.30,705.43 957.15,709.50 960.99,713.54 964.82,717.56 968.63,721.55 972.42,725.51 976.20,729.44 979.97,733.35 983.73,737.24 987.46,741.10 991.19,744.93 994.90,748.74 998.60,752.52 1002.29,756.28 1005.96,760.02 1009.62,763.73 1013.27,767.42 1016.90,771.09 1020.52,774.74 1024.13,778.36 1027.72,781.96 1031.31,785.54 1034.88,789.10 1038.44,792.63 1041.98,796.15 1045.52,799.64 1049.04,803.12 1052.55,806.57 1056.05,810.00 1059.54,813.42 1063.02,816.81 1066.48,820.19 1069.94,823.54 1073.38,826.88 1076.81,830.20 1080.23,833.50 1083.64,836.78 1087.04,840.04 1090.43,843.29 1093.81,846.51 1097.17,849.72 1100.53,852.92 1103.88,856.09 1107.21,859.25 1110.54,862.39 1113.85,865.52 1117.16,868.63 1120.45,871.72 1123.74,874.80 1127.01,877.86 1130.28,880.91 1133.54,883.94 1136.78,886.95 1140.02,889.95 1143.25,892.93 1146.47,895.90 1149.68,898.86 1152.87,901.80 1156.07,904.72 1159.25,907.63 1162.42,910.53 1165.58,913.41 1168.74,916.28 1171.88,919.13 1175.02,921.97 1178.15,924.80" fill="none" stroke="#FFA500" stroke-width="1" />
<polyline points="389.51,-227.76 398.24,-208.34 406.86,-189.54 415.37,-171.31 423.78,-153.63 432.09,-136.46 440.30,-119.77 448.41,-103.54 456.43,-87.75 464.36,-72.36 472.20,-57.37 479.96,-42.74 487.63,-28.47 495.22,-14.53 502.74,-0.92 510.17,12.40 517.53,25.41 524.82,38.15 532.03,50.62 539.18,62.83 546.26,74.80 553.27,86.53 560.22,98.03 567.10,109.31 573.92,120.38 580.69,131.25 587.39,141.92 594.03,152.41 600.62,162.71 607.16,172.83 613.63,182.79 620.06,192.58 626.43,202.21 632.76,211.69 639.03,221.02 645.26,230.20 651.43,239.24 657.56,248.15 663.65,256.92 669.69,265.57 675.68,274.09 681.63,282.49 687.54,290.78 693.41,298.95 699.23,307.01 705.02,314.96 710.76,322.80 716.47,330.54 722.14,338.19 727.77,345.73 733.36,353.18 738.92,360.54 744.44,367.81 749.93,374.99 755.38,382.08 760.80,389.09 766.18,396.02 771.53,402.87 776.85,409.64 782.14,416.33 787.40,422.95 792.62,429.49 797.81,435.96 802.98,442.37 808.11,448.70 813.22,454.97 818.29,461.17 823.34,467.31 828.36,473.38 833.35,479.40 838.32,485.35 843.26,491.24 848.17,497.08 853.05,502.86 857.92,508.58 862.75,514.25 867.56,519.86 872.34,525.42 877.11,530.93 881.84,536.39 886.56,541.80 891.25,547.16 895.91,552.48 900.56,557.74 905.18,562.96 909.77,568.13 914.35,573.26 918.91,578.34 923.44,583.38 927.95,588.38 932.44,593.34 936.91,598.26 941.36,603.13 945.79,607.97 950.20,612.76 954.59,617.52 958.97,622.24 963.32,626.92 967.65,631.57 971.96,636.18 976.26,640.75 980.53,645.29 984.79,649.79 989.03,654.26 993.25,658.70 997.46,663.10 1001.64,667.47 1005.81,671.81 1009.97,676.12 1014.10,680.40 1018.22,684.64 1022.32,688.86 1026.41,693.04 1030.48,697.20 1034.53,701.33 1038.57,705.43 1042.59,709.50 1046.60,713.54 1050.59,717.56 1054.56,721.55 1058.52,725.51 1062.47,729.44 1066.40,733.35 1070.31,737.24 1074.21,741.10 1078.10,744.93 1081.97,748.74 1085.83,752.52 1089.67,756.28 1093.50,760.02 1097.32,763.73 1101.12,767.42 1104.91,771.09 1108.69,774.74 1112.45,778.36 1116.20,781.96 1119.94,785.54 1123.66,789.10 1127.37,792.63 1131.07,796.15 1134.75,799.64 1138.42,803.12 1142.08,806.57 1145.73,810.00 1149.37,813.42 1152.99,816.81 1156.60,820.19 1160.20,823.54 1163.79,826.88 1167.37,830.20 1170.93,833.50 1174.49,836.78 1178.03,840.04 1181.56,843.29 1185.08,846.51 1188.59,849.72 1192.09,852.92 1195.57,856.09 1199.05,859.25 1202.51,862.39 1205.97,865.52 1209.41,868.63 1212.84,871.72 1216.27,874.80 1219.68,877.86 1223.08,880.91 1226.47,883.94 1229.85,886.95 1233.23,889.95 1236.59,892.93 1239.94,895.90 1243.28,898.86 1246.61,901.80 1249.94,904.72 1253.25,907.63 1256.55,910.53 1259.85,913.41 1263.13,916.28 1266.41,919.13 1269.68,921.97 1272.93,924.80" fill="none" stroke="#FFA500" stroke-width="1" />
<polyline points="443.87,-227.76 453.12,-208.34 462.24,-189.54 471.24,-171.31 480.12,-153.63 488.90,-136.46 497.57,-119.77 506.13,-103.54 514.59,-87.75 522.96,-72.36 531.22,-57.37 539.40,-42.74 547.48,-28.47 555.48,-14.53 563.38,-0.92 571.21,12.40 578.96,25.41 586.62,38.15 594.21,50.62 601.72,62.83 609.16,74.80 616.53,86.53 623.83,98.03 631.06,109.31 638.23,120.38 645.33,131.25 652.36,141.92 659.34,152.41 666.25,162.71 673.11,172.83 679.90,182.79 686.64,192.58 693.33,202.21 699.96,211.69 706.53,221.02 713.06,230.20 719.53,239.24 725.95,248.15 732.33,256.92 738.65,265.57 744.93,274.09 751.17,282.49 757.35,290.78 763.49,298.95 769.59,307.01 775.65,314.96 781.66,322.80 787.63,330.54 793.57,338.19 799.46,345.73 805.31,353.18 811.12,360.54 816.90,367.81 822.63,374.99 828.34,382.08 834.00,389.09 839.63,396.02 845.22,402.87 850.78,409.64 856.31,416.33 861.80,422.95 867.26,429.49 872.69,435.96 878.08,442.37 883.45,448.70 888.78,454.97 894.08,461.17 899.36,467.31 904.60,473.38 909.81,479.40 915.00,485.35 920.16,491.24 925.28,497.08 930.39,502.86 935.46,508.58 940.51,514.25 945.53,519.86 950.52,525.42 955.49,530.93 960.43,536.39 965.35,541.80 970.25,547.16 975.12,552.48 979.96,557.74 984.78,562.96 989.58,568.13 994.35,573.26 999.11,578.34 1003.83,583.38 1008.54,588.38 1013.22,593.34 1017.89,598.26 1022.53,603.13 1027.15,607.97 1031.75,612.76 1036.32,617.52 1040.88,622.24 1045.42,626.92 1049.93,631.57 1054.43,636.18 1058.91,640.75 1063.36,645.29 1067.80,649.79 1072.22,654.26 1076.62,658.70 1081.00,663.10 1085.37,667.47 1089.71,671.81 1094.04,676.12 1098.35,680.40 1102.64,684.64 1106.91,688.86 1111.17,693.04 1115.41,697.20 1119.63,701.33 1123.84,705.43 1128.03,709.50 1132.20,713.54 1136.36,717.56 1140.50,721.55 1144.62,725.51 1148.73,729.44 1152.82,733.35 1156.90,737.24 1160.96,741.10 1165.01,744.93 1169.04,748.74 1173.06,752.52 1177.06,756.28 1181.05,760.02 1185.02,763.73 1188.98,767.42 1192.92,771.09 1196.86,774.74 1200.77,778.36 1204.67,781.96 1208.56,785.54 1212.44,789.10 1216.30,792.63 1220.15,796.15 1223.99,799.64 1227.81,803.12 1231.62,806.57 1235.41,810.00 1239.20,813.42 1242.97,816.81 1246.73,820.19 1250.47,823.54 1254.21,826.88 1257.93,830.20 1261.64,833.50 1265.33,836.78 1269.02,840.04 1272.69,843.29 1276.35,846.51 1280.00,849.72 1283.64,852.92 1287.27,856.09 1290.88,859.25 1294.49,862.39 1298.08,865.52 1301.66,868.63 1305.23,871.72 1308.79,874.80 1312.34,877.86 1315.88,880.91 1319.41,883.94 1322.93,886.95 1326.43,889.95 1329.93,892.93 1333.41,895.90 1336.89,898.86 1340.35,901.80 1343.81,904.72 1347.26,907.63 1350.69,910.53 1354.12,913.41 1357.53,916.28 1360.94,919.13 1364.33,921.97 1367.72,924.80" fill="none" stroke="#FFA500" stroke-width="1" />
<polyline points="498.24,-227.76 507.99,-208.34 517.61,-189.54 527.10,-171.31 536.47,-153.63 545.71,-136.46 554.84,-119.77 563.85,-103.54 572.75,-87.75 581.55,-72.36 590.24,-57.37 598.83,-42.74 607.33,-28.47 615.73,-14.53 624.03,-0.92 632.25,12.40 640.38,25.41 648.42,38.15 656.39,50.62 664.27,62.83 672.07,74.80 679.79,86.53 687.45,98.03 695.02,109.31 702.53,120.38 709.97,131.25 717.34,141.92 724.64,152.41 731.88,162.71 739.06,172.83 746.17,182.79 753.22,192.58 760.22,202.21 767.15,211.69 774.03,221.02 780.86,230.20 787.63,239.24 794.34,248.15 801.01,256.92 807.62,265.57 814.18,274.09 820.70,282.49 827.16,290.78 833.58,298.95 839.95,307.01 846.28,314.96 852.56,322.80 858.80,330.54 864.99,338.19 871.14,345.73 877.25,353.18 883.32,360.54 889.35,367.81 895.34,374.99 901.29,382.08 907.20,389.09 913.08,396.02 918.91,402.87 924.71,409.64 930.48,416.33 936.21,422.95 941.90,429.49 947.57,435.96 953.19,442.37 958.79,448.70 964.35,454.97 969.88,461.17 975.37,467.31 980.84,473.38 986.28,479.40 991.68,485.35 997.06,491.24 1002.40,497.08 1007.72,502.86 1013.00,508.58 1018.26,514.25 1023.50,519.86 1028.70,525.42 1033.88,530.93 1039.03,536.39 1044.15,541.80 1049.25,547.16 1054.32,552.48 1059.37,557.74 1064.39,562.96 1069.38,568.13 1074.36,573.26 1079.30,578.34 1084.23,583.38 1089.13,588.38 1094.01,593.34 1098.86,598.26 1103.69,603.13 1108.50,607.97 1113.29,612.76 1118.05,617.52 1122.79,622.24 1127.52,626.92 1132.22,631.57 1136.90,636.18 1141.56,640.75 1146.19,645.29 1150.81,649.79 1155.41,654.26 1159.99,658.70 1164.55,663.10 1169.09,667.47 1173.61,671.81 1178.11,676.12 1182.59,680.40 1187.06,684.64 1191.50,688.86 1195.93,693.04 1200.34,697.20 1204.73,701.33 1209.11,705.43 1213.46,709.50 1217.80,713.54 1222.12,717.56 1226.43,721.55 1230.72,725.51 1234.99,729.44 1239.25,733.35 1243.49,737.24 1247.71,741.10 1251.92,744.93 1256.11,748.74 1260.29,752.52 1264.45,756.28 1268.59,760.02 1272.72,763.73 1276.84,767.42 1280.94,771.09 1285.02,774.74 1289.09,778.36 1293.15,781.96 1297.19,785.54 1301.22,789.10 1305.23,792.63 1309.23,796.15 1313.22,799.64 1317.19,803.12 1321.15,806.57 1325.09,810.00 1329.02,813.42 1332.94,816.81 1336.85,820.19 1340.74,823.54 1344.62,826.88 1348.48,830.20 1352.34,833.50 1356.18,836.78 1360.01,840.04 1363.82,843.29 1367.63,846.51 1371.42,849.72 1375.20,852.92 1378.96,856.09 1382.72,859.25 1386.46,862.39 1390.20,865.52 1393.92,868.63 1397.62,871.72 1401.32,874.80 1405.01,877.86 1408.68,880.91 1412.34,883.94 1416.00,886.95 1419.64,889.95 1423.27,892.93 1426.89,895.90 1430.50,898.86 1434.10,901.80 1437.68,904.72 1441.26,907.63 1444.83,910.53 1448.38,913.41 1451.93,916.28 1455.46,919.13 1458.99,921.97 1462.50,924.80" fill="none" stroke="#FFA500" stroke-width="1" />
<polyline points="552.60,-227.76 562.86,-208.34 572.98,-189.54 582.96,-171.31 592.81,-153.63 602.52,-136.46 612.11,-119.77 621.57,-103.54 630.91,-87.75 640.14,-72.36 649.26,-57.37 658.27,-42.74 667.18,-28.47 675.98,-14.53 684.68,-0.92 693.29,12.40 701.80,25.41 710.23,38.15 718.56,50.62 726.81,62.83 734.97,74.80 743.06,86.53 751.06,98.03 758.98,109.31 766.83,120.38 774.61,131.25 782.31,141.92 789.95,152.41 797.51,162.71 805.01,172.83 812.44,182.79 819.81,192.58 827.11,202.21 834.35,211.69 841.54,221.02 848.66,230.20 855.73,239.24 862.74,248.15 869.69,256.92 876.59,265.57 883.44,274.09 890.23,282.49 896.98,290.78 903.67,298.95 910.31,307.01 916.91,314.96 923.46,322.80 929.96,330.54 936.42,338.19 942.83,345.73 949.20,353.18 955.52,360.54 961.81,367.81 968.05,374.99 974.25,382.08 980.40,389.09 986.52,396.02 992.60,402.87 998.65,409.64 1004.65,416.33 1010.62,422.95 1016.55,429.49 1022.44,435.96 1028.30,442.37 1034.12,448.70 1039.91,454.97 1045.67,461.17 1051.39,467.31 1057.08,473.38 1062.74,479.40 1068.36,485.35 1073.95,491.24 1079.52,497.08 1085.05,502.86 1090.55,508.58 1096.02,514.25 1101.46,519.86 1106.88,525.42 1112.26,530.93 1117.62,536.39 1122.95,541.80 1128.25,547.16 1133.52,552.48 1138.77,557.74 1143.99,562.96 1149.19,568.13 1154.36,573.26 1159.50,578.34 1164.62,583.38 1169.72,588.38 1174.79,593.34 1179.83,598.26 1184.85,603.13 1189.85,607.97 1194.83,612.76 1199.78,617.52 1204.71,622.24 1209.62,626.92 1214.50,631.57 1219.36,636.18 1224.21,640.75 1229.02,645.29 1233.82,649.79 1238.60,654.26 1243.36,658.70 1248.09,663.10 1252.81,667.47 1257.51,671.81 1262.18,676.12 1266.84,680.40 1271.47,684.64 1276.09,688.86 1280.69,693.04 1285.27,697.20 1289.83,701.33 1294.37,705.43 1298.90,709.50 1303.40,713.54 1307.89,717.56 1312.36,721.55 1316.82,725.51 1321.25,729.44 1325.67,733.35 1330.07,737.24 1334.46,741.10 1338.83,744.93 1343.18,748.74 1347.51,752.52 1351.83,756.28 1356.14,760.02 1360.42,763.73 1364.69,767.42 1368.95,771.09 1373.19,774.74 1377.42,778.36 1381.62,781.96 1385.82,785.54 1390.00,789.10 1394.16,792.63 1398.32,796.15 1402.45,799.64 1406.57,803.12 1410.68,806.57 1414.77,810.00 1418.85,813.42 1422.92,816.81 1426.97,820.19 1431.01,823.54 1435.03,826.88 1439.04,830.20 1443.04,833.50 1447.02,836.78 1451.00,840.04 1454.95,843.29 1458.90,846.51 1462.83,849.72 1466.75,852.92 1470.66,856.09 1474.56,859.25 1478.44,862.39 1482.31,865.52 1486.17,868.63 1490.01,871.72 1493.85,874.80 1497.67,877.86 1501.48,880.91 1505.28,883.94 1509.07,886.95 1512.84,889.95 1516.61,892.93 1520.36,895.90 1524.10,898.86 1527.84,901.80 1531.55,904.72 1535.26,907.63 1538.96,910.53 1542.65,913.41 1546.33,916.28 1549.99,919.13 1553.65,921.97 1557.29,924.80" fill="none" stroke="#FFA500" stroke-width="1" />
<polyline points="606.96,-227.76 617.74,-208.34 628.36,-189.54 638.83,-171.31 649.15,-153.63 659.33,-136.46 669.38,-119.77 679.29,-103.54 689.08,-87.75 698.74,-72.36 708.28,-57.37 717.71,-42.74 727.02,-28.47 736.23,-14.53 745.33,-0.92 754.33,12.40 763.23,25.41 772.03,38.15 780.74,50.62 789.35,62.83 797.88,74.80 806.32,86.53 814.67,98.03 822.94,109.31 831.14,120.38 839.25,131.25 847.29,141.92 855.25,152.41 863.14,162.71 870.96,172.83 878.71,182.79 886.39,192.58 894.00,202.21 901.55,211.69 909.04,221.02 916.46,230.20 923.82,239.24 931.13,248.15 938.37,256.92 945.56,265.57 952.69,274.09 959.76,282.49 966.79,290.78 973.76,298.95 980.67,307.01 987.54,314.96 994.36,322.80 1001.12,330.54 1007.84,338.19 1014.52,345.73 1021.14,353.18 1027.72,360.54 1034.26,367.81 1040.75,374.99 1047.20,382.08 1053.61,389.09 1059.97,396.02 1066.29,402.87 1072.58,409.64 1078.82,416.33 1085.02,422.95 1091.19,429.49 1097.32,435.96 1103.41,442.37 1109.46,448.70 1115.48,454.97 1121.46,461.17 1127.41,467.31 1133.32,473.38 1139.20,479.40 1145.04,485.35 1150.85,491.24 1156.63,497.08 1162.38,502.86 1168.09,508.58 1173.78,514.25 1179.43,519.86 1185.05,525.42 1190.65,530.93 1196.21,536.39 1201.75,541.80 1207.25,547.16 1212.73,552.48 1218.18,557.74 1223.60,562.96 1228.99,568.13 1234.36,573.26 1239.70,578.34 1245.02,583.38 1250.30,588.38 1255.57,593.34 1260.80,598.26 1266.02,603.13 1271.21,607.97 1276.37,612.76 1281.51,617.52 1286.62,622.24 1291.72,626.92 1296.79,631.57 1301.83,636.18 1306.85,640.75 1311.86,645.29 1316.83,649.79 1321.79,654.26 1326.73,658.70 1331.64,663.10 1336.53,667.47 1341.40,671.81 1346.25,676.12 1351.08,680.40 1355.89,684.64 1360.68,688.86 1365.45,693.04 1370.20,697.20 1374.93,701.33 1379.64,705.43 1384.33,709.50 1389.01,713.54 1393.66,717.56 1398.30,721.55 1402.92,725.51 1407.52,729.44 1412.10,733.35 1416.66,737.24 1421.21,741.10 1425.74,744.93 1430.25,748.74 1434.74,752.52 1439.22,756.28 1443.68,760.02 1448.12,763.73 1452.55,767.42 1456.96,771.09 1461.36,774.74 1465.74,778.36 1470.10,781.96 1474.45,785.54 1478.78,789.10 1483.10,792.63 1487.40,796.15 1491.68,799.64 1495.96,803.12 1500.21,806.57 1504.45,810.00 1508.68,813.42 1512.89,816.81 1517.09,820.19 1521.28,823.54 1525.44,826.88 1529.60,830.20 1533.74,833.50 1537.87,836.78 1541.99,840.04 1546.09,843.29 1550.17,846.51 1554.25,849.72 1558.31,852.92 1562.36,856.09 1566.39,859.25 1570.41,862.39 1574.42,865.52 1578.42,868.63 1582.40,871.72 1586.38,874.80 1590.34,877.86 1594.28,880.91 1598.22,883.94 1602.14,886.95 1606.05,889.95 1609.95,892.93 1613.84,895.90 1617.71,898.86 1621.58,901.80 1625.43,904.72 1629.27,907.63 1633.10,910.53 1636.92,913.41 1640.72,916.28 1644.52,919.13 1648.30,921.97 1652.08,924.80" fill="none" stroke="#FFA500" stroke-width="1" />
<polyline points="661.32,-227.76 672.61,-208.34 683.73,-189.54 694.69,-171.31 705.49,-153.63 716.14,-136.46 726.65,-119.77 737.01,-103.54 747.24,-87.75 757.33,-72.36 767.30,-57.37 777.15,-42.74 786.87,-28.47 796.48,-14.53 805.98,-0.92 815.37,12.40 824.65,25.41 833.83,38.15 842.91,50.62 851.89,62.83 860.78,74.80 869.58,86.53 878.29,98.03 886.91,109.31 895.44,120.38 903.89,131.25 912.26,141.92 920.55,152.41 928.77,162.71 936.91,172.83 944.98,182.79 952.97,192.58 960.89,202.21 968.75,211.69 976.54,221.02 984.26,230.20 991.92,239.24 999.52,248.15 1007.05,256.92 1014.52,265.57 1021.94,274.09 1029.30,282.49 1036.60,290.78 1043.84,298.95 1051.03,307.01 1058.17,314.96 1065.26,322.80 1072.29,330.54 1079.27,338.19 1086.20,345.73 1093.09,353.18 1099.92,360.54 1106.71,367.81 1113.46,374.99 1120.15,382.08 1126.81,389.09 1133.42,396.02 1139.98,402.87 1146.51,409.64 1152.99,416.33 1159.43,422.95 1165.83,429.49 1172.19,435.96 1178.51,442.37 1184.80,448.70 1191.04,454.97 1197.25,461.17 1203.42,467.31 1209.56,473.38 1215.66,479.40 1221.72,485.35 1227.75,491.24 1233.75,497.08 1239.71,502.86 1245.64,508.58 1251.54,514.25 1257.40,519.86 1263.23,525.42 1269.03,530.93 1274.80,536.39 1280.54,541.80 1286.25,547.16 1291.93,552.48 1297.58,557.74 1303.20,562.96 1308.80,568.13 1314.36,573.26 1319.90,578.34 1325.41,583.38 1330.89,588.38 1336.35,593.34 1341.78,598.26 1347.18,603.13 1352.56,607.97 1357.91,612.76 1363.24,617.52 1368.54,622.24 1373.82,626.92 1379.07,631.57 1384.30,636.18 1389.50,640.75 1394.69,645.29 1399.84,649.79 1404.98,654.26 1410.09,658.70 1415.18,663.10 1420.25,667.47 1425.30,671.81 1430.32,676.12 1435.33,680.40 1440.31,684.64 1445.27,688.86 1450.21,693.04 1455.13,697.20 1460.03,701.33 1464.91,705.43 1469.77,709.50 1474.61,713.54 1479.43,717.56 1484.23,721.55 1489.01,725.51 1493.78,729.44 1498.52,733.35 1503.25,737.24 1507.95,741.10 1512.64,744.93 1517.32,748.74 1521.97,752.52 1526.60,756.28 1531.22,760.02 1535.82,763.73 1540.41,767.42 1544.98,771.09 1549.53,774.74 1554.06,778.36 1558.58,781.96 1563.08,785.54 1567.56,789.10 1572.03,792.63 1576.48,796.15 1580.92,799.64 1585.34,803.12 1589.74,806.57 1594.13,810.00 1598.51,813.42 1602.87,816.81 1607.21,820.19 1611.54,823.54 1615.86,826.88 1620.16,830.20 1624.44,833.50 1628.72,836.78 1632.97,840.04 1637.22,843.29 1641.45,846.51 1645.66,849.72 1649.87,852.92 1654.05,856.09 1658.23,859.25 1662.39,862.39 1666.54,865.52 1670.67,868.63 1674.79,871.72 1678.90,874.80 1683.00,877.86 1687.08,880.91 1691.15,883.94 1695.21,886.95 1699.26,889.95 1703.29,892.93 1707.31,895.90 1711.32,898.86 1715.32,901.80 1719.30,904.72 1723.27,907.63 1727.23,910.53 1731.18,913.41 1735.12,916.28 1739.05,919.13 1742.96,921.97 1746.86,924.80" fill="none" stroke="#FFA500" stroke-width="1" />
<polyline points="715.69,-227.76 727.49,-208.34 739.11,-189.54 750.55,-171.31 761.83,-153.63 772.95,-136.46 783.92,-119.77 794.73,-103.54 805.40,-87.75 815.93,-72.36 826.32,-57.37 836.58,-42.74 846.72,-28.47 856.73,-14.53 866.63,-0.92 876.41,12.40 886.07,25.41 895.63,38.15 905.09,50.62 914.44,62.83 923.69,74.80 932.84,86.53 941.90,98.03 950.87,109.31 959.74,120.38 968.53,131.25 977.24,141.92 985.86,152.41 994.40,162.71 1002.86,172.83 1011.24,182.79 1019.55,192.58 1027.79,202.21 1035.95,211.69 1044.04,221.02 1052.06,230.20 1060.02,239.24 1067.91,248.15 1075.73,256.92 1083.49,265.57 1091.19,274.09 1098.83,282.49 1106.41,290.78 1113.93,298.95 1121.39,307.01 1128.80,314.96 1136.15,322.80 1143.45,330.54 1150.70,338.19 1157.89,345.73 1165.03,353.18 1172.12,360.54 1179.17,367.81 1186.16,374.99 1193.11,382.08 1200.01,389.09 1206.86,396.02 1213.67,402.87 1220.44,409.64 1227.16,416.33 1233.84,422.95 1240.47,429.49 1247.07,435.96 1253.62,442.37 1260.13,448.70 1266.61,454.97 1273.04,461.17 1279.44,467.31 1285.80,473.38 1292.12,479.40 1298.40,485.35 1304.65,491.24 1310.86,497.08 1317.04,502.86 1323.18,508.58 1329.29,514.25 1335.37,519.86 1341.41,525.42 1347.42,530.93 1353.40,536.39 1359.34,541.80 1365.25,547.16 1371.14,552.48 1376.99,557.74 1382.81,562.96 1388.60,568.13 1394.37,573.26 1400.10,578.34 1405.80,583.38 1411.48,588.38 1417.13,593.34 1422.75,598.26 1428.34,603.13 1433.91,607.97 1439.45,612.76 1444.97,617.52 1450.45,622.24 1455.92,626.92 1461.35,631.57 1466.77,636.18 1472.15,640.75 1477.52,645.29 1482.86,649.79 1488.17,654.26 1493.46,658.70 1498.73,663.10 1503.97,667.47 1509.20,671.81 1514.40,676.12 1519.57,680.40 1524.73,684.64 1529.86,688.86 1534.97,693.04 1540.06,697.20 1545.13,701.33 1550.18,705.43 1555.21,709.50 1560.21,713.54 1565.20,717.56 1570.17,721.55 1575.11,725.51 1580.04,729.44 1584.95,733.35 1589.83,737.24 1594.70,741.10 1599.55,744.93 1604.38,748.74 1609.20,752.52 1613.99,756.28 1618.77,760.02 1623.53,763.73 1628.27,767.42 1632.99,771.09 1637.69,774.74 1642.38,778.36 1647.05,781.96 1651.70,785.54 1656.34,789.10 1660.96,792.63 1665.56,796.15 1670.15,799.64 1674.72,803.12 1679.28,806.57 1683.81,810.00 1688.34,813.42 1692.84,816.81 1697.33,820.19 1701.81,823.54 1706.27,826.88 1710.72,830.20 1715.15,833.50 1719.56,836.78 1723.96,840.04 1728.35,843.29 1732.72,846.51 1737.08,849.72 1741.42,852.92 1745.75,856.09 1750.06,859.25 1754.37,862.39 1758.65,865.52 1762.93,868.63 1767.18,871.72 1771.43,874.80 1775.66,877.86 1779.88,880.91 1784.09,883.94 1788.28,886.95 1792.46,889.95 1796.63,892.93 1800.78,895.90 1804.93,898.86 1809.06,901.80 1813.17,904.72 1817.28,907.63 1821.37,910.53 1825.45,913.41 1829.52,916.28 1833.57,919.13 1837.62,921.97 1841.65,924.80" fill="none" stroke="#FFA500" stroke-width="1" />
<polyline points="770.05,-227.76 782.36,-208.34 794.48,-189.54 806.42,-171.31 818.18,-153.63 829.76,-136.46 841.18,-119.77 852.45,-103.54 863.56,-87.75 874.52,-72.36 885.34,-57.37 896.02,-42.74 906.57,-28.47 916.98,-14.53 927.28,-0.92 937.45,12.40 947.50,25.41 957.44,38.15 967.26,50.62 976.98,62.83 986.59,74.80 996.10,86.53 1005.51,98.03 1014.83,109.31 1024.05,120.38 1033.17,131.25 1042.21,141.92 1051.16,152.41 1060.03,162.71 1068.81,172.83 1077.51,182.79 1086.13,192.58 1094.68,202.21 1103.15,211.69 1111.54,221.02 1119.86,230.20 1128.11,239.24 1136.30,248.15 1144.41,256.92 1152.46,265.57 1160.44,274.09 1168.36,282.49 1176.22,290.78 1184.02,298.95 1191.75,307.01 1199.43,314.96 1207.05,322.80 1214.62,330.54 1222.12,338.19 1229.58,345.73 1236.98,353.18 1244.33,360.54 1251.62,367.81 1258.87,374.99 1266.06,382.08 1273.21,389.09 1280.31,396.02 1287.36,402.87 1294.37,409.64 1301.33,416.33 1308.24,422.95 1315.12,429.49 1321.94,435.96 1328.73,442.37 1335.47,448.70 1342.17,454.97 1348.83,461.17 1355.46,467.31 1362.04,473.38 1368.58,479.40 1375.08,485.35 1381.55,491.24 1387.98,497.08 1394.37,502.86 1400.73,508.58 1407.05,514.25 1413.34,519.86 1419.59,525.42 1425.80,530.93 1431.99,536.39 1438.14,541.80 1444.26,547.16 1450.34,552.48 1456.39,557.74 1462.42,562.96 1468.41,568.13 1474.37,573.26 1480.30,578.34 1486.20,583.38 1492.07,588.38 1497.91,593.34 1503.72,598.26 1509.51,603.13 1515.26,607.97 1520.99,612.76 1526.69,617.52 1532.37,622.24 1538.02,626.92 1543.64,631.57 1549.23,636.18 1554.80,640.75 1560.35,645.29 1565.87,649.79 1571.36,654.26 1576.83,658.70 1582.28,663.10 1587.70,667.47 1593.09,671.81 1598.47,676.12 1603.82,680.40 1609.15,684.64 1614.45,688.86 1619.73,693.04 1624.99,697.20 1630.23,701.33 1635.45,705.43 1640.64,709.50 1645.82,713.54 1650.97,717.56 1656.10,721.55 1661.21,725.51 1666.30,729.44 1671.37,733.35 1676.42,737.24 1681.45,741.10 1686.46,744.93 1691.45,748.74 1696.42,752.52 1701.38,756.28 1706.31,760.02 1711.23,763.73 1716.12,767.42 1721.00,771.09 1725.86,774.74 1730.70,778.36 1735.53,781.96 1740.33,785.54 1745.12,789.10 1749.89,792.63 1754.65,796.15 1759.38,799.64 1764.10,803.12 1768.81,806.57 1773.49,810.00 1778.16,813.42 1782.82,816.81 1787.46,820.19 1792.08,823.54 1796.68,826.88 1801.27,830.20 1805.85,833.50 1810.41,836.78 1814.95,840.04 1819.48,843.29 1823.99,846.51 1828.49,849.72 1832.98,852.92 1837.45,856.09 1841.90,859.25 1846.34,862.39 1850.77,865.52 1855.18,868.63 1859.57,871.72 1863.96,874.80 1868.33,877.86 1872.68,880.91 1877.03,883.94 1881.35,886.95 1885.67,889.95 1889.97,892.93 1894.26,895.90 1898.53,898.86 1902.80,901.80 1907.04,904.72 1911.28,907.63 1915.50,910.53 1919.72,913.41 1923.91,916.28 1928.10,919.13 1932.27,921.97 1936.43,924.80" fill="none" stroke="#FFA500" stroke-width="1" />
<polyline points="824.41,-227.76 837.24,-208.34 849.86,-189.54 862.28,-171.31 874.52,-153.63 886.57,-136.46 898.45,-119.77 910.17,-103.54 921.72,-87.75 933.11,-72.36 944.36,-57.37 955.46,-42.74 966.42,-28.47 977.24,-14.53 987.92,-0.92 998.49,12.40 1008.92,25.41 1019.24,38.15 1029.44,50.62 1039.52,62.83 1049.50,74.80 1059.36,86.53 1069.13,98.03 1078.79,109.31 1088.35,120.38 1097.81,131.25 1107.19,141.92 1116.47,152.41 1125.66,162.71 1134.76,172.83 1143.78,182.79 1152.71,192.58 1161.57,202.21 1170.34,211.69 1179.04,221.02 1187.66,230.20 1196.21,239.24 1204.69,248.15 1213.09,256.92 1221.43,265.57 1229.70,274.09 1237.90,282.49 1246.03,290.78 1254.10,298.95 1262.11,307.01 1270.06,314.96 1277.95,322.80 1285.78,330.54 1293.55,338.19 1301.26,345.73 1308.92,353.18 1316.53,360.54 1324.08,367.81 1331.57,374.99 1339.02,382.08 1346.41,389.09 1353.76,396.02 1361.05,402.87 1368.30,409.64 1375.50,416.33 1382.65,422.95 1389.76,429.49 1396.82,435.96 1403.84,442.37 1410.81,448.70 1417.74,454.97 1424.63,461.17 1431.47,467.31 1438.28,473.38 1445.04,479.40 1451.76,485.35 1458.45,491.24 1465.10,497.08 1471.70,502.86 1478.27,508.58 1484.81,514.25 1491.30,519.86 1497.76,525.42 1504.19,530.93 1510.58,536.39 1516.94,541.80 1523.26,547.16 1529.54,552.48 1535.80,557.74 1542.02,562.96 1548.21,568.13 1554.37,573.26 1560.50,578.34 1566.59,583.38 1572.66,588.38 1578.69,593.34 1584.70,598.26 1590.67,603.13 1596.62,607.97 1602.53,612.76 1608.42,617.52 1614.28,622.24 1620.12,626.92 1625.92,631.57 1631.70,636.18 1637.45,640.75 1643.18,645.29 1648.88,649.79 1654.55,654.26 1660.20,658.70 1665.82,663.10 1671.42,667.47 1676.99,671.81 1682.54,676.12 1688.06,680.40 1693.56,684.64 1699.04,688.86 1704.49,693.04 1709.92,697.20 1715.33,701.33 1720.72,705.43 1726.08,709.50 1731.42,713.54 1736.74,717.56 1742.03,721.55 1747.31,725.51 1752.56,729.44 1757.80,733.35 1763.01,737.24 1768.20,741.10 1773.37,744.93 1778.52,748.74 1783.65,752.52 1788.76,756.28 1793.85,760.02 1798.93,763.73 1803.98,767.42 1809.01,771.09 1814.03,774.74 1819.02,778.36 1824.00,781.96 1828.96,785.54 1833.90,789.10 1838.82,792.63 1843.73,796.15 1848.62,799.64 1853.49,803.12 1858.34,806.57 1863.17,810.00 1867.99,813.42 1872.79,816.81 1877.58,820.19 1882.35,823.54 1887.10,826.88 1891.83,830.20 1896.55,833.50 1901.25,836.78 1905.94,840.04 1910.61,843.29 1915.27,846.51 1919.91,849.72 1924.53,852.92 1929.14,856.09 1933.74,859.25 1938.32,862.39 1942.88,865.52 1947.43,868.63 1951.96,871.72 1956.49,874.80 1960.99,877.86 1965.48,880.91 1969.96,883.94 1974.42,886.95 1978.87,889.95 1983.31,892.93 1987.73,895.90 1992.14,898.86 1996.54,901.80 2000.92,904.72 2005.29,907.63 2009.64,910.53 2013.98,913.41 2018.31,916.28 2022.63,919.13 2026.93,921.97 2031.22,924.80" fill="none" stroke="#FFA500" stroke-width="1" />
<polyline points="698.24,924.80 698.13,919.13 698.04,913.41 697.95,907.63 697.87,901.80 697.79,895.90 697.72,889.95 697.66,883.94 697.61,877.86 697.56,871.72 697.51,865.52 697.47,859.25 697.46,852.92 697.44,846.51 697.43,840.04 697.42,833.50 697.41,826.88 697.41,820.19 697.42,813.42 697.43,806.57 697.44,799.64 697.46,792.63 697.48,785.54 697.51,778.36 697.54,771.09 697.57,763.73 697.60,756.28 697.63,748.74 697.67,741.10 697.71,733.35 697.74,725.51 697.77,717.56 697.80,709.50 697.87,701.33 697.91,693.04 697.94,684.64 697.96,676.12 698.02,667.47 698.09,658.70 698.17,649.79 698.25,640.75 698.33,631.57 698.42,622.24 698.51,612.76 698.61,603.13 698.70,593.34 698.79,583.38 698.89,573.26 698.97,562.96 699.06,552.48 699.13,541.80 699.16,530.93 699.20,519.86 699.23,508.58 699.24,497.08 699.22,485.35 699.18,473.38 699.11,461.17 699.01,448.70 698.86,435.96 698.67,422.95 698.43,409.64 698.12,396.02 697.75,382.08 697.30,367.81 696.77,353.18 696.13,338.19 695.38,322.80 694.51,307.01 693.54,290.78 692.37,274.09 690.87,256.92 689.36,239.24 687.55,221.02 685.47,202.21 683.09,182.79 680.37,162.71 677.26,141.92 673.71,120.38 669.65,98.03 665.08,74.80" fill="none" stroke="#8CD800" stroke-width="1" />
<polyline points="661.64,924.80 661.38,919.13 661.13,913.41 660.88,907.63 660.64,901.80 660.40,895.90 660.17,889.95 659.95,883.94 659.72,877.86 659.50,871.72 659.28,865.52 659.06,859.25 658.89,852.92 658.69,846.51 658.49,840.04 658.29,833.50 658.09,826.88 657.90,820.19 657.70,813.42 657.51,806.57 657.31,799.64 657.11,792.63 656.91,785.54 656.71,778.36 656.50,771.09 656.28,763.73 656.06,756.28 655.87,748.74 655.68,741.10 655.49,733.35 655.30,725.51 655.16,717.56 654.98,709.50 654.80,701.33 654.61,693.04 654.42,684.64 654.22,676.12 654.02,667.47 653.80,658.70 653.58,649.79 653.35,640.75 653.09,631.57 652.83,622.24 652.54,612.76 652.24,603.13 651.91,593.34 651.55,583.38 651.17,573.26 650.75,562.96 650.30,552.48 649.80,541.80 649.26,530.93 648.67,519.86 647.97,508.58 647.25,497.08 646.47,485.35 645.62,473.38 644.68,461.17 643.65,448.70 642.52,435.96 641.28,422.95 639.99,409.64 638.49,396.02 636.84,382.08 635.02,367.81 633.00,353.18 630.86,338.19 628.47,322.80 625.85,307.01 622.98,290.78 619.84,274.09 616.40,256.92 612.62,239.24 608.49,221.02 603.95,202.21 598.98,182.79 593.52,162.71 587.57,141.92 581.06,120.38 573.97,98.03 566.26,74.80" fill="none" stroke="#8CD800" stroke-width="1" />
<polyline points="625.24,924.80 624.79,919.13 624.33,913.41 623.89,907.63 623.45,901.80 623.01,895.90 622.58,889.95 622.14,883.94 621.71,877.86 621.27,871.72 620.83,865.52 620.42,859.25 619.98,852.92 619.54,846.51 619.10,840.04 618.66,833.50 618.23,826.88 617.82,820.19 617.41,813.42 617.00,806.57 616.60,799.64 616.19,792.63 615.78,785.54 615.37,778.36 614.95,771.09 614.53,763.73 614.10,756.28 613.67,748.74 613.22,741.10 612.76,733.35 612.34,725.51 611.87,717.56 611.38,709.50 610.88,701.33 610.36,693.04 609.82,684.64 609.25,676.12 608.66,667.47 608.04,658.70 607.40,649.79 606.71,640.75 605.99,631.57 605.23,622.24 604.43,612.76 603.58,603.13 602.68,593.34 601.72,583.38 600.69,573.26 599.60,562.96 598.44,552.48 597.20,541.80 595.87,530.93 594.45,519.86 592.93,508.58 591.30,497.08 589.56,485.35 587.68,473.38 585.67,461.17 583.51,448.70 581.17,435.96 578.70,422.95 576.03,409.64 573.16,396.02 570.07,382.08 566.76,367.81 563.20,353.18 559.38,338.19 555.28,322.80 550.88,307.01 546.15,290.78 541.09,274.09 535.66,256.92 529.84,239.24 523.62,221.02 517.02,202.21 509.95,182.79 502.42,162.71 494.41,141.92 485.91,120.38 476.90,98.03 467.37,74.80" fill="none" stroke="#8CD800" stroke-width="1" />
<polyline points="588.81,924.80 588.19,919.13 587.56,913.41 586.92,907.63 586.28,901.80 585.62,895.90 584.96,889.95 584.30,883.94 583.64,877.86 582.98,871.72 582.33,865.52 581.67,859.25 581.00,852.92 580.39,846.51 579.73,840.04 579.08,833.50 578.42,826.88 577.76,820.19 577.09,813.42 576.42,806.57 575.74,799.64 575.05,792.63 574.34,785.54 573.63,778.36 572.90,771.09 572.15,763.73 571.39,756.28 570.61,748.74 569.80,741.10 568.97,733.35 568.11,725.51 567.23,717.56 566.36,709.50 565.41,701.33 564.44,693.04 563.42,684.64 562.36,676.12 561.25,667.47 560.10,658.70 558.89,649.79 557.62,640.75 556.29,631.57 554.90,622.24 553.43,612.76 551.89,603.13 550.27,593.34 548.55,583.38 546.75,573.26 544.84,562.96 542.82,552.48 540.67,541.80 538.44,530.93 536.07,519.86 533.54,508.58 530.87,497.08 528.04,485.35 525.04,473.38 521.87,461.17 518.51,448.70 514.96,435.96 511.19,422.95 507.20,409.64 502.99,396.02 498.52,382.08 493.80,367.81 488.82,353.18 483.55,338.19 477.99,322.80 472.13,307.01 465.95,290.78 459.46,274.09 452.63,256.92 445.50,239.24 438.00,221.02 430.13,202.21 421.90,182.79 413.30,162.71 404.32,141.92 394.95,120.38 385.19,98.03 375.03,74.80" fill="none" stroke="#8CD800" stroke-width="1" />
<polyline points="552.22,924.80 551.43,919.13 550.63,913.41 549.84,907.63 549.04,901.80 548.23,895.90 547.42,889.95 546.60,883.94 545.76,877.86 544.91,871.72 544.05,865.52 543.16,859.25 542.31,852.92 541.41,846.51 540.49,840.04 539.52,833.50 538.54,826.88 537.53,820.19 536.52,813.42 535.48,806.57 534.43,799.64 533.36,792.63 532.26,785.54 531.14,778.36 529.99,771.09 528.81,763.73 527.61,756.28 526.36,748.74 525.09,741.10 523.77,733.35 522.41,725.51 521.01,717.56 519.56,709.50 518.05,701.33 516.50,693.04 514.88,684.64 513.21,676.12 511.46,667.47 509.65,658.70 507.76,649.79 505.80,640.75 503.75,631.57 501.60,622.24 499.36,612.76 497.02,603.13 494.57,593.34 492.01,583.38 489.33,573.26 486.53,562.96 483.59,552.48 480.52,541.80 477.30,530.93 473.93,519.86 470.40,508.58 466.70,497.08 462.83,485.35 458.77,473.38 454.53,461.17 450.09,448.70 445.45,435.96 440.60,422.95 435.53,409.64 430.24,396.02 424.72,382.08 418.96,367.81 412.97,353.18 406.73,338.19 400.23,322.80 393.49,307.01 386.48,290.78 379.21,274.09 371.67,256.92 363.86,239.24 355.77,221.02 347.47,202.21 338.83,182.79 329.90,162.71 320.69,141.92 311.17,120.38 301.36,98.03 291.25,74.80" fill="none" stroke="#8CD800" stroke-width="1" />
<polyline points="516.02,924.80 515.00,919.13 513.98,913.41 512.94,907.63 511.90,901.80 510.84,895.90 509.77,889.95 508.68,883.94 507.57,877.86 506.44,871.72 505.29,865.52 504.15,859.25 502.97,852.92 501.76,846.51 500.52,840.04 499.26,833.50 497.97,826.88 496.65,820.19 495.29,813.42 493.90,806.57 492.47,799.64 491.00,792.63 489.48,785.54 487.92,778.36 486.32,771.09 484.64,763.73 482.89,756.28 481.10,748.74 479.25,741.10 477.35,733.35 475.40,725.51 473.38,717.56 471.30,709.50 469.15,701.33 466.93,693.04 464.64,684.64 462.27,676.12 459.81,667.47 457.26,658.70 454.62,649.79 451.89,640.75 449.05,631.57 446.13,622.24 443.09,612.76 439.93,603.13 436.66,593.34 433.26,583.38 429.73,573.26 426.07,562.96 422.27,552.48 418.33,541.80 414.24,530.93 410.00,519.86 405.61,508.58 401.06,497.08 396.34,485.35 391.45,473.38 386.40,461.17 381.16,448.70 375.75,435.96 370.16,422.95 364.38,409.64 358.42,396.02 352.26,382.08 345.91,367.81 339.37,353.18 332.63,338.19 325.69,322.80 318.54,307.01 311.19,290.78 303.64,274.09 295.88,256.92 287.90,239.24 279.71,221.02 271.31,202.21 262.69,182.79 253.84,162.71 244.78,141.92 235.49,120.38 225.98,98.03 216.23,74.80" fill="none" stroke="#8CD800" stroke-width="1" />
<polyline points="480.04,924.80 478.76,919.13 477.46,913.41 476.15,907.63 474.81,901.80 473.45,895.90 472.07,889.95 470.66,883.94 469.23,877.86 467.76,871.72 466.25,865.52 464.76,859.25 463.21,852.92 461.62,846.51 459.99,840.04 458.33,833.50 456.63,826.88 454.89,820.19 453.11,813.42 451.28,806.57 449.40,799.64 447.47,792.63 445.49,785.54 443.46,778.36 441.37,771.09 439.22,763.73 437.01,756.28 434.73,748.74 432.38,741.10 429.97,733.35 427.47,725.51 424.91,717.56 422.26,709.50 419.52,701.33 416.70,693.04 413.79,684.64 410.79,676.12 407.69,667.47 404.49,658.70 401.22,649.79 397.81,640.75 394.27,631.57 390.62,622.24 386.86,612.76 382.99,603.13 379.00,593.34 374.89,583.38 370.67,573.26 366.32,562.96 361.84,552.48 357.24,541.80 352.51,530.93 347.64,519.86 342.64,508.58 337.50,497.08 332.22,485.35 326.81,473.38 321.25,461.17 315.54,448.70 309.69,435.96 303.69,422.95 297.55,409.64 291.25,396.02 284.81,382.08 278.21,367.81 271.45,353.18 264.54,338.19 257.47,322.80 250.25,307.01 242.86,290.78 235.31,274.09 227.60,256.92 219.72,239.24 211.67,221.02 203.46,202.21 195.07,182.79 186.52,162.71 177.79,141.92 168.89,120.38 159.82,98.03 150.57,74.80" fill="none" stroke="#8CD800" stroke-width="1" />
<line x1="769.75" y1="353.18" x2="630.29" y2="895.90" stroke="#8CD800" stroke-width="1" stroke-dasharray="3.6 6"/>
<line x1="702.00" y1="353.18" x2="554.54" y2="895.90" stroke="#8CD800" stroke-width="1" stroke-dasharray="3.6 6"/>
<line x1="650.50" y1="353.18" x2="497.14" y2="895.90" stroke="#8CD800" stroke-width="1" stroke-dasharray="3.6 6"/>
<line x1="593.36" y1="353.18" x2="433.62" y2="895.90" stroke="#8CD800" stroke-width="1" stroke-dasharray="3.6 6"/>
<line x1="534.27" y1="353.18" x2="368.14" y2="895.90" stroke="#8CD800" stroke-width="1" stroke-dasharray="3.6 6"/>
<line x1="489.49" y1="353.18" x2="318.68" y2="895.90" stroke="#8CD800" stroke-width="1" stroke-dasharray="3.6 6"/>
<line x1="417.03" y1="353.18" x2="238.92" y2="895.90" stroke="#8CD800" stroke-width="1" stroke-dasharray="3.6 6"/>
</g>
<text transform="translate(80.00 176.50) rotate(58.00)" font-size="14.50" fill="#FFA500" text-anchor="middle" dominant-baseline="central" stroke="#fff" stroke-width="0.00">10</text>
<text transform="translate(80.40 342.40) rotate(58.00)" font-size="14.50" fill="#FFA500" text-anchor="middle" dominant-baseline="central" stroke="#fff" stroke-width="0.00">0</text>
<text transform="translate(83.00 510.40) rotate(58.00)" font-size="14.50" fill="#FFA500" text-anchor="middle" dominant-baseline="central" stroke="#fff" stroke-width="0.00">10</text>
<text transform="translate(80.60 667.20) rotate(58.00)" font-size="14.50" fill="#FFA500" text-anchor="middle" dominant-baseline="central" stroke="#fff" stroke-width="0.00">20</text>
<text transform="translate(80.00 827.80) rotate(58.00)" font-size="14.50" fill="#FFA500" text-anchor="middle" dominant-baseline="central" stroke="#fff" stroke-width="0.00">30</text>
<text transform="translate(732.00 243.00) rotate(-45.00)" font-size="20.00" fill="#FFA500" text-anchor="middle" dominant-baseline="central" stroke="#fff" stroke-width="0.60">0</text>
<text transform="translate(760.00 378.00) rotate(-45.00)" font-size="20.00" fill="#FFA500" text-anchor="middle" dominant-baseline="central" stroke="#fff" stroke-width="0.60">10</text>
<text transform="translate(804.50 468.50) rotate(-45.00)" font-size="20.00" fill="#FFA500" text-anchor="middle" dominant-baseline="central" stroke="#fff" stroke-width="0.60">20</text>
<text transform="translate(853.00 556.00) rotate(-45.00)" font-size="20.00" fill="#FFA500" text-anchor="middle" dominant-baseline="central" stroke="#fff" stroke-width="0.60">30</text>
<text transform="translate(235.50 909.00) rotate(-68.00)" font-size="13.00" fill="#8CD800" text-anchor="middle" dominant-baseline="central" stroke="#fff" stroke-width="0.00">1</text>
<text transform="translate(314.50 909.00) rotate(-68.00)" font-size="13.00" fill="#8CD800" text-anchor="middle" dominant-baseline="central" stroke="#fff" stroke-width="0.00">2</text>
<text transform="translate(363.50 909.50) rotate(-68.00)" font-size="13.00" fill="#8CD800" text-anchor="middle" dominant-baseline="central" stroke="#fff" stroke-width="0.00">3</text>
<text transform="translate(429.00 908.00) rotate(-68.00)" font-size="13.00" fill="#8CD800" text-anchor="middle" dominant-baseline="central" stroke="#fff" stroke-width="0.00">5</text>
<text transform="translate(492.50 908.00) rotate(-68.00)" font-size="13.00" fill="#8CD800" text-anchor="middle" dominant-baseline="central" stroke="#fff" stroke-width="0.00">8</text>
<text transform="translate(550.70 908.80) rotate(-68.00)" font-size="13.00" fill="#8CD800" text-anchor="middle" dominant-baseline="central" stroke="#fff" stroke-width="0.00">12</text>
<text transform="translate(625.00 908.00) rotate(-68.00)" font-size="13.00" fill="#8CD800" text-anchor="middle" dominant-baseline="central" stroke="#fff" stroke-width="0.00">20</text>
<polygon points="69.80,924.80 867.79,924.80 867.79,617.29 720.66,353.00 720.66,74.80 69.80,74.80" fill="none" stroke="#000" stroke-width="1" shape-rendering="crispEdges"/>
<line x1="70.00" y1="98.00" x2="70.00" y2="889.70" stroke="#00B400" stroke-width="2" shape-rendering="crispEdges"/>
<polyline points="139.00,98.00 139.00,223.50 72.50,258.00 71.50,271.00 71.00,283.50" fill="none" stroke="#000" stroke-width="2" shape-rendering="crispEdges"/>
<polyline points="489.00,99.00 518.00,175.00 549.00,270.00 560.00,307.50 570.00,347.50 580.00,395.00 596.00,500.00 603.75,550.00 611.25,617.50 616.25,675.00 617.50,695.00" fill="none" stroke="#6E0064" stroke-width="2" stroke-dasharray="13 5.5" stroke-dashoffset="12" shape-rendering="crispEdges"/>
<polyline points="421.00,99.00 460.00,179.00 464.00,184.00 476.00,224.00 478.00,244.00 473.75,280.00 463.75,330.00 463.00,336.00 464.50,387.50 484.50,480.00 495.00,522.50 511.25,572.50 518.00,607.50 520.50,650.00 540.00,693.75 559.80,708.60 580.70,719.20 590.20,731.70 586.20,750.40 595.00,770.20 596.10,780.10 599.00,788.90 584.00,845.00 578.50,873.60 577.00,882.40 580.70,887.90 585.10,889.00" fill="none" stroke="#0064FF" stroke-width="3" stroke-linejoin="round" shape-rendering="crispEdges"/>
<polyline points="455.60,99.00 474.00,144.00 482.00,170.00 494.00,210.00 503.75,250.00 513.75,300.00 528.75,352.50 546.25,422.50 561.25,480.00 580.00,552.50 593.00,607.50 603.00,665.00 615.00,692.50 618.10,706.40 618.10,730.60 628.00,743.80 631.30,754.80 633.50,772.40 639.00,787.80 652.20,809.80 667.60,827.40 680.80,842.80 705.00,871.40 722.60,889.50" fill="none" stroke="#FF0000" stroke-width="3" stroke-linejoin="round" shape-rendering="crispEdges"/>
<circle cx="608.2" cy="890" r="4" fill="#0064FF"/>
<circle cx="723" cy="889.5" r="4" fill="#FF0000"/>
<line x1="103.60" y1="924.50" x2="103.60" y2="934.80" stroke="#000" stroke-width="1" shape-rendering="crispEdges"/>
<line x1="197.07" y1="924.50" x2="197.07" y2="934.80" stroke="#000" stroke-width="1" shape-rendering="crispEdges"/>
<line x1="290.54" y1="924.50" x2="290.54" y2="934.80" stroke="#000" stroke-width="1" shape-rendering="crispEdges"/>
<line x1="384.02" y1="924.50" x2="384.02" y2="934.80" stroke="#000" stroke-width="1" shape-rendering="crispEdges"/>
<line x1="477.49" y1="924.50" x2="477.49" y2="934.80" stroke="#000" stroke-width="1" shape-rendering="crispEdges"/>
<line x1="570.97" y1="924.50" x2="570.97" y2="934.80" stroke="#000" stroke-width="1" shape-rendering="crispEdges"/>
<line x1="664.44" y1="924.50" x2="664.44" y2="934.80" stroke="#000" stroke-width="1" shape-rendering="crispEdges"/>
<line x1="757.91" y1="924.50" x2="757.91" y2="934.80" stroke="#000" stroke-width="1" shape-rendering="crispEdges"/>
<line x1="815.50" y1="74.00" x2="815.50" y2="902.00" stroke="#000" stroke-width="1" shape-rendering="crispEdges"/>
<line x1="919.00" y1="74.00" x2="919.00" y2="924.00" stroke="#000" stroke-width="2" shape-rendering="crispEdges"/>
<line x1="920.00" y1="903.00" x2="930.00" y2="903.00" stroke="#000" stroke-width="1" shape-rendering="crispEdges"/>
<line x1="920.00" y1="859.89" x2="930.00" y2="859.89" stroke="#000" stroke-width="1" shape-rendering="crispEdges"/>
<line x1="920.00" y1="816.18" x2="930.00" y2="816.18" stroke="#000" stroke-width="1" shape-rendering="crispEdges"/>
<line x1="920.00" y1="771.85" x2="930.00" y2="771.85" stroke="#000" stroke-width="1" shape-rendering="crispEdges"/>
<line x1="920.00" y1="726.88" x2="930.00" y2="726.88" stroke="#000" stroke-width="1" shape-rendering="crispEdges"/>
<line x1="920.00" y1="681.24" x2="930.00" y2="681.24" stroke="#000" stroke-width="1" shape-rendering="crispEdges"/>
<line x1="920.00" y1="634.93" x2="930.00" y2="634.93" stroke="#000" stroke-width="1" shape-rendering="crispEdges"/>
<line x1="920.00" y1="587.92" x2="930.00" y2="587.92" stroke="#000" stroke-width="1" shape-rendering="crispEdges"/>
<line x1="920.00" y1="540.19" x2="930.00" y2="540.19" stroke="#000" stroke-width="1" shape-rendering="crispEdges"/>
<line x1="920.00" y1="491.71" x2="930.00" y2="491.71" stroke="#000" stroke-width="1" shape-rendering="crispEdges"/>
<line x1="920.00" y1="442.47" x2="930.00" y2="442.47" stroke="#000" stroke-width="1" shape-rendering="crispEdges"/>
<line x1="920.00" y1="392.44" x2="930.00" y2="392.44" stroke="#000" stroke-width="1" shape-rendering="crispEdges"/>
<line x1="920.00" y1="341.59" x2="930.00" y2="341.59" stroke="#000" stroke-width="1" shape-rendering="crispEdges"/>
<line x1="920.00" y1="289.89" x2="930.00" y2="289.89" stroke="#000" stroke-width="1" shape-rendering="crispEdges"/>
<line x1="920.00" y1="237.33" x2="930.00" y2="237.33" stroke="#000" stroke-width="1" shape-rendering="crispEdges"/>
<line x1="920.00" y1="183.85" x2="930.00" y2="183.85" stroke="#000" stroke-width="1" shape-rendering="crispEdges"/>
<line x1="920.00" y1="129.45" x2="930.00" y2="129.45" stroke="#000" stroke-width="1" shape-rendering="crispEdges"/>
<text transform="translate(61.00 49.00) scale(0.9386 1)" font-size="24.29" fill="#000" stroke="#000" stroke-width="0.90">KinugawaGP</text>
<circle cx="47.5" cy="40.5" r="5.3" fill="#000"/>
<text transform="translate(202.00 45.80) scale(1.0246 1)" font-size="14.14" fill="#000" stroke="#000" stroke-width="0.60">36.68°,139.943° (107,83)</text>
<text transform="translate(385.50 48.40) scale(1.0219 1)" font-size="22.71" fill="#000" stroke="#000" stroke-width="0.90">Valid 1500 JST</text>
<text transform="translate(548.80 46.80) scale(0.9632 1)" font-size="17.86" fill="#000" stroke="#000" stroke-width="0.50">(0600Z)</text>
<text transform="translate(619.00 48.40) scale(0.9897 1)" font-size="22.86" fill="#000" stroke="#000" stroke-width="0.90">MON 16 Jul 2018</text>
<text transform="translate(805.00 46.80) scale(0.9681 1)" font-size="17.86" fill="#000" stroke="#000" stroke-width="0.60">[12hrFcst@2312z]</text>
<text transform="translate(325.20 70.80) scale(0.9051 1)" font-size="14.71" fill="#B00040" font-weight="bold">Plcl=809 Tlcl[C]=16 Shox=-1 Pwat[cm]=5 Cape[J]= 979</text>
<text transform="translate(24.70 81.70) scale(0.9499 1)" font-size="19.86" fill="#000" stroke="#000" stroke-width="0.60">250</text>
<text transform="translate(24.90 189.60) scale(0.9647 1)" font-size="19.43" fill="#000" stroke="#000" stroke-width="0.60">300</text>
<text transform="translate(24.90 360.50) scale(0.9647 1)" font-size="19.43" fill="#000" stroke="#000" stroke-width="0.60">400</text>
<text transform="translate(24.80 492.30) scale(0.9833 1)" font-size="19.00" fill="#000" stroke="#000" stroke-width="0.60">500</text>
<text transform="translate(24.70 691.70) scale(0.9499 1)" font-size="19.86" fill="#000" stroke="#000" stroke-width="0.60">700</text>
<text transform="translate(24.70 806.70) scale(0.9499 1)" font-size="19.86" fill="#000" stroke="#000" stroke-width="0.60">850</text>
<text transform="translate(15.70 902.00) scale(0.9678 1)" font-size="18.71" fill="#000" stroke="#000" stroke-width="0.60">1000</text>
<text transform="translate(22.5 548) rotate(-90)" font-size="17.3" fill="#000" stroke="#000" stroke-width="0.5" textLength="56" lengthAdjust="spacingAndGlyphs">P (hPa)</text>
<text transform="translate(60.20 71.20) scale(1.1316 1)" font-size="12.14" fill="#00B400" font-weight="bold">0.0</text>
<text transform="translate(60.20 88.50) scale(1.0687 1)" font-size="12.86" fill="#000" stroke="#000" stroke-width="0.60">0.0</text>
<text transform="translate(60.20 922.70) scale(0.9716 1)" font-size="14.14" fill="#00B400" font-weight="bold">0.0</text>
<text transform="translate(60.20 938.80) scale(0.9716 1)" font-size="14.14" fill="#000" stroke="#000" stroke-width="0.60">0.0</text>
<text transform="translate(95.20 71.20) scale(1.1079 1)" font-size="12.14" fill="#00B400" font-weight="bold">0.5</text>
<text transform="translate(95.20 88.50) scale(1.0464 1)" font-size="12.86" fill="#000" stroke="#000" stroke-width="0.60">0.5</text>
<text transform="translate(95.20 922.70) scale(0.9512 1)" font-size="14.14" fill="#00B400" font-weight="bold">0.5</text>
<text transform="translate(95.20 938.80) scale(0.9512 1)" font-size="14.14" fill="#000" stroke="#000" stroke-width="0.60">0.5</text>
<text transform="translate(130.00 71.20) scale(1.0427 1)" font-size="12.14" fill="#00B400" font-weight="bold">1.0</text>
<text transform="translate(130.00 88.50) scale(0.9848 1)" font-size="12.86" fill="#000" stroke="#000" stroke-width="0.60">1.0</text>
<text transform="translate(130.00 922.70) scale(0.8953 1)" font-size="14.14" fill="#00B400" font-weight="bold">1.0</text>
<text transform="translate(130.00 938.80) scale(0.8953 1)" font-size="14.14" fill="#000" stroke="#000" stroke-width="0.60">1.0</text>
<text transform="translate(157.50 922.70) scale(0.9255 1)" font-size="14.14" fill="#00B400" font-weight="bold">CloudWater (g/Kg)</text>
<text transform="translate(157.50 938.80) scale(0.9792 1)" font-size="14.14" fill="#000" stroke="#000" stroke-width="0.60">Grid-Scale Cloudiness</text>
<text transform="translate(89.60 962.80) scale(1.0129 1)" font-size="18.86" fill="#000" stroke="#000" stroke-width="0.60">-30</text>
<text transform="translate(183.00 962.80) scale(1.0166 1)" font-size="18.86" fill="#000" stroke="#000" stroke-width="0.60">-20</text>
<text transform="translate(276.60 962.80) scale(0.9872 1)" font-size="18.86" fill="#000" stroke="#000" stroke-width="0.60">-10</text>
<text transform="translate(378.90 962.80) scale(0.9651 1)" font-size="18.86" fill="#000" stroke="#000" stroke-width="0.60">0</text>
<text transform="translate(468.20 962.80) scale(0.9029 1)" font-size="18.86" fill="#000" stroke="#000" stroke-width="0.60">10</text>
<text transform="translate(560.40 962.80) scale(0.9937 1)" font-size="18.86" fill="#000" stroke="#000" stroke-width="0.60">20</text>
<text transform="translate(653.90 962.80) scale(0.9985 1)" font-size="18.86" fill="#000" stroke="#000" stroke-width="0.60">30</text>
<text transform="translate(746.20 962.80) scale(1.0081 1)" font-size="18.86" fill="#000" stroke="#000" stroke-width="0.60">40</text>
<text transform="translate(431.40 986.20) scale(0.8915 1)" font-size="19.43" fill="#000" stroke="#000" stroke-width="0.60">Temperature (C)</text>
<text transform="translate(811.60 89.90) scale(0.9241 1)" font-size="14.43" fill="#00B400" font-weight="bold">0</text>
<text transform="translate(860.00 89.90) scale(0.9366 1)" font-size="14.43" fill="#00B400" font-weight="bold">20</text>
<text transform="translate(911.00 89.90) scale(0.9990 1)" font-size="14.43" fill="#00B400" font-weight="bold">40</text>
<text transform="translate(963.00 89.90) scale(0.9740 1)" font-size="14.43" fill="#00B400" font-weight="bold">60</text>
<text transform="translate(811.60 923.60) scale(0.8805 1)" font-size="15.14" fill="#00B400" font-weight="bold">0</text>
<text transform="translate(860.00 923.60) scale(0.8924 1)" font-size="15.14" fill="#00B400" font-weight="bold">20</text>
<text transform="translate(911.00 923.60) scale(0.9519 1)" font-size="15.14" fill="#00B400" font-weight="bold">40</text>
<text transform="translate(963.00 923.60) scale(0.9281 1)" font-size="15.14" fill="#00B400" font-weight="bold">60</text>
<text x="837" y="940" font-size="13" font-weight="bold" fill="#00B400">Speed (kt)</text>
<text x="942.40" y="910.20" font-size="19.29" fill="#000" stroke="#000" stroke-width="0.60">0</text>
<text x="942.40" y="867.09" font-size="19.29" fill="#000" stroke="#000" stroke-width="0.60">2</text>
<text x="942.40" y="823.38" font-size="19.57" fill="#000" stroke="#000" stroke-width="0.60">4</text>
<text x="942.40" y="779.05" font-size="19.29" fill="#000" stroke="#000" stroke-width="0.60">6</text>
<text x="942.40" y="734.08" font-size="19.29" fill="#000" stroke="#000" stroke-width="0.60">8</text>
<text x="942.40" y="688.44" font-size="19.29" fill="#000" stroke="#000" stroke-width="0.60">10</text>
<text x="942.40" y="642.13" font-size="19.29" fill="#000" stroke="#000" stroke-width="0.60">12</text>
<text x="942.40" y="595.12" font-size="19.57" fill="#000" stroke="#000" stroke-width="0.60">14</text>
<text x="942.40" y="547.39" font-size="19.29" fill="#000" stroke="#000" stroke-width="0.60">16</text>
<text x="942.40" y="498.91" font-size="19.29" fill="#000" stroke="#000" stroke-width="0.60">18</text>
<text x="942.40" y="449.67" font-size="19.29" fill="#000" stroke="#000" stroke-width="0.60">20</text>
<text x="942.40" y="399.64" font-size="19.29" fill="#000" stroke="#000" stroke-width="0.60">22</text>
<text x="942.40" y="348.79" font-size="19.29" fill="#000" stroke="#000" stroke-width="0.60">24</text>
<text x="942.40" y="297.09" font-size="19.29" fill="#000" stroke="#000" stroke-width="0.60">26</text>
<text x="942.40" y="244.53" font-size="19.29" fill="#000" stroke="#000" stroke-width="0.60">28</text>
<text x="942.40" y="191.05" font-size="19.29" fill="#000" stroke="#000" stroke-width="0.60">30</text>
<text x="942.40" y="136.65" font-size="19.29" fill="#000" stroke="#000" stroke-width="0.60">32</text>
<text transform="translate(885.5 420.5) rotate(90)" font-size="18.5" fill="#000" stroke="#000" stroke-width="0.5" textLength="157" lengthAdjust="spacingAndGlyphs">Height (1000 Feet)</text>
<polyline points="898.30,98.40 898.30,184.70 899.00,185.50 899.00,257.90 898.30,258.50 897.40,300.00 888.30,420.00 872.60,553.60 864.20,601.60 864.40,631.60 863.50,651.00 857.00,670.00 853.00,684.00 853.00,690.00 852.00,709.00 850.50,720.00 843.50,732.00 842.00,740.00 839.50,753.00 834.00,764.00 821.00,779.00 822.00,787.00 820.50,798.00 822.00,830.00 826.20,877.20 825.80,889.20" fill="none" stroke="#00B400" stroke-width="1" shape-rendering="crispEdges"/>
<path d="M815.50 97.60L794.55 70.19M794.55 70.19L799.70 59.91M796.61 72.89L801.76 62.61M798.68 75.59L803.83 65.31M815.50 142.60L793.65 115.90M793.65 115.90L798.45 105.45M795.80 118.53L800.61 108.09M797.95 121.16L802.76 110.72M815.50 183.40L793.65 156.70M793.65 156.70L798.45 146.25M795.80 159.33L800.61 148.89M797.95 161.96L802.76 151.52M815.50 222.60L792.96 196.48M792.96 196.48L797.49 185.91M795.18 199.05L799.71 188.49M797.40 201.63L801.93 191.06M815.50 258.00L792.24 232.52M792.24 232.52L796.47 221.83M794.53 235.03L798.77 224.34M796.82 237.54L801.06 226.85M815.50 294.60L789.58 271.83M789.58 271.83L792.61 260.74M792.13 274.08L795.17 262.98M794.69 276.32L797.72 265.23M815.50 338.60L788.25 317.44M788.25 317.44L790.61 306.18M790.94 319.53L793.29 308.27M793.62 321.61L795.98 310.35M815.50 388.40L787.58 368.13M787.58 368.13L789.57 356.81M790.33 370.13L792.33 358.80M793.08 372.13L795.08 360.80M815.50 438.80L787.57 418.54M787.57 418.54L789.56 407.22M790.32 420.54L792.31 409.21M793.08 422.54L795.06 411.21M815.50 490.00L788.37 468.69M788.37 468.69L790.79 457.45M791.04 470.79L793.46 459.55M793.72 472.89L796.14 461.65M815.50 535.60L787.86 514.95M787.86 514.95L790.01 503.65M790.59 516.98L792.74 505.69M793.31 519.02L795.46 507.72M815.50 573.60L786.27 555.27M786.27 555.27L787.49 543.83M789.15 557.08L790.37 545.64M815.50 605.80L784.70 590.25M784.70 590.25L784.86 578.75M787.74 591.78L787.90 580.28M815.50 630.60L782.60 620.21M782.60 620.21L780.91 608.84M785.84 621.23L784.15 609.86M815.50 651.60L781.60 645.21M781.60 645.21L778.56 634.12M784.94 645.84L781.90 634.75M815.50 667.20L781.00 667.20M781.00 667.20L775.96 656.86M784.40 667.20L781.99 662.26M815.50 684.00L781.03 685.46M781.03 685.46L775.56 675.35M784.43 685.32L781.81 680.48M815.50 697.20L781.00 697.20M781.00 697.20L775.96 686.86M784.40 697.20L781.99 692.26M815.50 707.80L781.08 705.51M781.08 705.51L776.73 694.86M784.47 705.73L782.39 700.64M815.50 720.60L782.19 711.60M782.19 711.60L780.02 700.31M785.48 712.49L784.44 707.09M815.50 731.40L783.26 719.11M783.26 719.11L782.24 707.66M815.50 741.60L784.42 726.63M784.42 726.63L784.36 715.13M815.50 751.80L786.55 733.04M786.55 733.04L787.94 721.62M815.50 761.80L786.73 742.76M789.23 744.41L789.95 738.96M815.50 770.40L784.66 754.93M787.34 756.28L787.40 750.78M815.50 780.00L781.08 777.62M815.50 790.20L789.24 812.57M791.52 810.63L786.48 808.43M815.50 800.30L808.25 834.03M815.50 808.40L836.00 843.40M834.00 839.90L832.00 843.90M815.50 816.80L836.00 851.80M834.00 848.30L832.00 852.30M815.50 824.50L836.00 859.50M834.00 856.00L832.00 860.00M815.50 832.90L836.00 867.90M834.00 864.40L832.00 868.40M815.50 839.90L836.00 874.90M834.00 871.40L832.00 875.40M815.50 847.60L836.00 882.60M834.00 879.10L832.00 883.10M815.50 855.20L836.00 890.20M834.00 886.70L832.00 890.70M815.50 862.60L836.00 897.60M834.00 894.10L832.00 898.10M815.50 869.70L836.00 904.70M834.00 901.20L832.00 905.20M815.50 875.50L836.00 910.50M834.00 907.00L832.00 911.00M815.50 879.50L836.00 914.50M834.00 911.00L832.00 915.00M815.50 883.00L836.00 918.00M834.00 914.50L832.00 918.50M815.50 886.00L834.24 918.00M832.24 914.50L830.24 918.50M815.50 888.50L832.78 918.00M830.78 914.50L828.78 918.50M815.50 891.00L831.31 918.00M829.31 914.50L827.31 918.50" stroke="#000" stroke-width="1" fill="none" shape-rendering="crispEdges"/>
</svg></body></html>
